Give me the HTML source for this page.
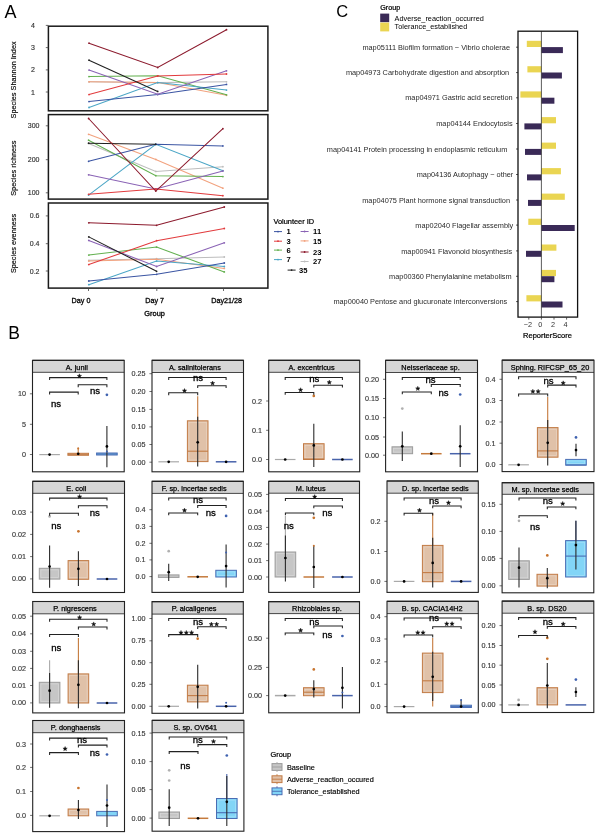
<!DOCTYPE html>
<html><head><meta charset="utf-8"><style>
html,body{margin:0;padding:0;background:#fff;}
svg{display:block;font-family:"Liberation Sans", sans-serif;will-change:transform;}
text{stroke-linejoin:round;}
</style></head><body>
<svg width="598" height="836" viewBox="0 0 598 836">
<rect width="598" height="836" fill="#fff"/>
<text x="4.50" y="18.00" font-size="18" text-anchor="start" fill="#000" >A</text>
<polyline points="89.0,81.8 157.7,82.6 226.5,81.8" fill="none" stroke="#bdbdbd" stroke-width="1.05"/>
<circle cx="89.00" cy="81.80" r="0.9" fill="#bdbdbd"/>
<circle cx="157.70" cy="82.60" r="0.9" fill="#bdbdbd"/>
<circle cx="226.50" cy="81.80" r="0.9" fill="#bdbdbd"/>
<polyline points="89.0,81.8 157.7,82.6 226.5,95.3" fill="none" stroke="#f2a27e" stroke-width="1.05"/>
<circle cx="89.00" cy="81.80" r="0.9" fill="#f2a27e"/>
<circle cx="157.70" cy="82.60" r="0.9" fill="#f2a27e"/>
<circle cx="226.50" cy="95.30" r="0.9" fill="#f2a27e"/>
<polyline points="89.0,76.6 157.7,75.8 226.5,94.8" fill="none" stroke="#63b04f" stroke-width="1.05"/>
<circle cx="89.00" cy="76.60" r="0.9" fill="#63b04f"/>
<circle cx="157.70" cy="75.80" r="0.9" fill="#63b04f"/>
<circle cx="226.50" cy="94.80" r="0.9" fill="#63b04f"/>
<polyline points="89.0,107.5 157.7,82.6 226.5,90.1" fill="none" stroke="#4ba6c6" stroke-width="1.05"/>
<circle cx="89.00" cy="107.50" r="0.9" fill="#4ba6c6"/>
<circle cx="157.70" cy="82.60" r="0.9" fill="#4ba6c6"/>
<circle cx="226.50" cy="90.10" r="0.9" fill="#4ba6c6"/>
<polyline points="89.0,101.6 157.7,94.6 226.5,84.4" fill="none" stroke="#3b55a3" stroke-width="1.05"/>
<circle cx="89.00" cy="101.60" r="0.9" fill="#3b55a3"/>
<circle cx="157.70" cy="94.60" r="0.9" fill="#3b55a3"/>
<circle cx="226.50" cy="84.40" r="0.9" fill="#3b55a3"/>
<polyline points="89.0,70.1 157.7,94.3 226.5,70.8" fill="none" stroke="#8a63b5" stroke-width="1.05"/>
<circle cx="89.00" cy="70.10" r="0.9" fill="#8a63b5"/>
<circle cx="157.70" cy="94.30" r="0.9" fill="#8a63b5"/>
<circle cx="226.50" cy="70.80" r="0.9" fill="#8a63b5"/>
<polyline points="89.0,94.6 157.7,76.0 226.5,74.0" fill="none" stroke="#e23b3d" stroke-width="1.05"/>
<circle cx="89.00" cy="94.60" r="0.9" fill="#e23b3d"/>
<circle cx="157.70" cy="76.00" r="0.9" fill="#e23b3d"/>
<circle cx="226.50" cy="74.00" r="0.9" fill="#e23b3d"/>
<polyline points="89.0,60.2 157.7,91.4" fill="none" stroke="#202020" stroke-width="1.05"/>
<circle cx="89.00" cy="60.20" r="0.9" fill="#202020"/>
<circle cx="157.70" cy="91.40" r="0.9" fill="#202020"/>
<polyline points="89.0,43.2 157.7,67.5 226.5,29.7" fill="none" stroke="#8c1a2d" stroke-width="1.05"/>
<circle cx="89.00" cy="43.20" r="0.9" fill="#8c1a2d"/>
<circle cx="157.70" cy="67.50" r="0.9" fill="#8c1a2d"/>
<circle cx="226.50" cy="29.70" r="0.9" fill="#8c1a2d"/>
<rect x="48.40" y="26.20" width="219.50" height="84.60" fill="none" stroke="#1a1a1a" stroke-width="1.5" />
<polyline points="88.6,143.5 155.8,171.4 222.9,166.7" fill="none" stroke="#bdbdbd" stroke-width="1.05"/>
<circle cx="88.60" cy="143.50" r="0.9" fill="#bdbdbd"/>
<circle cx="155.80" cy="171.40" r="0.9" fill="#bdbdbd"/>
<circle cx="222.90" cy="166.70" r="0.9" fill="#bdbdbd"/>
<polyline points="88.6,134.3 155.8,159.4 222.9,188.2" fill="none" stroke="#f2a27e" stroke-width="1.05"/>
<circle cx="88.60" cy="134.30" r="0.9" fill="#f2a27e"/>
<circle cx="155.80" cy="159.40" r="0.9" fill="#f2a27e"/>
<circle cx="222.90" cy="188.20" r="0.9" fill="#f2a27e"/>
<polyline points="88.6,140.2 155.8,175.7 222.9,176.6" fill="none" stroke="#63b04f" stroke-width="1.05"/>
<circle cx="88.60" cy="140.20" r="0.9" fill="#63b04f"/>
<circle cx="155.80" cy="175.70" r="0.9" fill="#63b04f"/>
<circle cx="222.90" cy="176.60" r="0.9" fill="#63b04f"/>
<polyline points="88.6,195.1 155.8,144.3 222.9,170.7" fill="none" stroke="#4ba6c6" stroke-width="1.05"/>
<circle cx="88.60" cy="195.10" r="0.9" fill="#4ba6c6"/>
<circle cx="155.80" cy="144.30" r="0.9" fill="#4ba6c6"/>
<circle cx="222.90" cy="170.70" r="0.9" fill="#4ba6c6"/>
<polyline points="88.6,161.3 155.8,144.3 222.9,145.9" fill="none" stroke="#3b55a3" stroke-width="1.05"/>
<circle cx="88.60" cy="161.30" r="0.9" fill="#3b55a3"/>
<circle cx="155.80" cy="144.30" r="0.9" fill="#3b55a3"/>
<circle cx="222.90" cy="145.90" r="0.9" fill="#3b55a3"/>
<polyline points="88.6,174.8 155.8,189.0 222.9,171.0" fill="none" stroke="#8a63b5" stroke-width="1.05"/>
<circle cx="88.60" cy="174.80" r="0.9" fill="#8a63b5"/>
<circle cx="155.80" cy="189.00" r="0.9" fill="#8a63b5"/>
<circle cx="222.90" cy="171.00" r="0.9" fill="#8a63b5"/>
<polyline points="88.6,194.3 155.8,189.0 222.9,195.7" fill="none" stroke="#e23b3d" stroke-width="1.05"/>
<circle cx="88.60" cy="194.30" r="0.9" fill="#e23b3d"/>
<circle cx="155.80" cy="189.00" r="0.9" fill="#e23b3d"/>
<circle cx="222.90" cy="195.70" r="0.9" fill="#e23b3d"/>
<polyline points="88.6,143.2 155.8,144.3" fill="none" stroke="#202020" stroke-width="1.05"/>
<circle cx="88.60" cy="143.20" r="0.9" fill="#202020"/>
<circle cx="155.80" cy="144.30" r="0.9" fill="#202020"/>
<polyline points="88.6,118.5 155.8,191.1 222.9,128.7" fill="none" stroke="#8c1a2d" stroke-width="1.05"/>
<circle cx="88.60" cy="118.50" r="0.9" fill="#8c1a2d"/>
<circle cx="155.80" cy="191.10" r="0.9" fill="#8c1a2d"/>
<circle cx="222.90" cy="128.70" r="0.9" fill="#8c1a2d"/>
<rect x="48.40" y="114.60" width="219.50" height="84.50" fill="none" stroke="#1a1a1a" stroke-width="1.5" />
<polyline points="88.8,260.3 156.6,258.7 224.3,257.0" fill="none" stroke="#bdbdbd" stroke-width="1.05"/>
<circle cx="88.80" cy="260.30" r="0.9" fill="#bdbdbd"/>
<circle cx="156.60" cy="258.70" r="0.9" fill="#bdbdbd"/>
<circle cx="224.30" cy="257.00" r="0.9" fill="#bdbdbd"/>
<polyline points="88.8,261.1 156.6,259.2 224.3,268.4" fill="none" stroke="#f2a27e" stroke-width="1.05"/>
<circle cx="88.80" cy="261.10" r="0.9" fill="#f2a27e"/>
<circle cx="156.60" cy="259.20" r="0.9" fill="#f2a27e"/>
<circle cx="224.30" cy="268.40" r="0.9" fill="#f2a27e"/>
<polyline points="88.8,255.1 156.6,247.1 224.3,271.9" fill="none" stroke="#63b04f" stroke-width="1.05"/>
<circle cx="88.80" cy="255.10" r="0.9" fill="#63b04f"/>
<circle cx="156.60" cy="247.10" r="0.9" fill="#63b04f"/>
<circle cx="224.30" cy="271.90" r="0.9" fill="#63b04f"/>
<polyline points="88.8,284.7 156.6,261.1 224.3,266.5" fill="none" stroke="#4ba6c6" stroke-width="1.05"/>
<circle cx="88.80" cy="284.70" r="0.9" fill="#4ba6c6"/>
<circle cx="156.60" cy="261.10" r="0.9" fill="#4ba6c6"/>
<circle cx="224.30" cy="266.50" r="0.9" fill="#4ba6c6"/>
<polyline points="88.8,281.0 156.6,274.3 224.3,263.0" fill="none" stroke="#3b55a3" stroke-width="1.05"/>
<circle cx="88.80" cy="281.00" r="0.9" fill="#3b55a3"/>
<circle cx="156.60" cy="274.30" r="0.9" fill="#3b55a3"/>
<circle cx="224.30" cy="263.00" r="0.9" fill="#3b55a3"/>
<polyline points="88.8,240.4 156.6,266.5 224.3,242.8" fill="none" stroke="#8a63b5" stroke-width="1.05"/>
<circle cx="88.80" cy="240.40" r="0.9" fill="#8a63b5"/>
<circle cx="156.60" cy="266.50" r="0.9" fill="#8a63b5"/>
<circle cx="224.30" cy="242.80" r="0.9" fill="#8a63b5"/>
<polyline points="88.8,264.6 156.6,240.7 224.3,228.5" fill="none" stroke="#e23b3d" stroke-width="1.05"/>
<circle cx="88.80" cy="264.60" r="0.9" fill="#e23b3d"/>
<circle cx="156.60" cy="240.70" r="0.9" fill="#e23b3d"/>
<circle cx="224.30" cy="228.50" r="0.9" fill="#e23b3d"/>
<polyline points="88.8,236.9 156.6,271.3" fill="none" stroke="#202020" stroke-width="1.05"/>
<circle cx="88.80" cy="236.90" r="0.9" fill="#202020"/>
<circle cx="156.60" cy="271.30" r="0.9" fill="#202020"/>
<polyline points="88.8,222.8 156.6,225.3 224.3,207.0" fill="none" stroke="#8c1a2d" stroke-width="1.05"/>
<circle cx="88.80" cy="222.80" r="0.9" fill="#8c1a2d"/>
<circle cx="156.60" cy="225.30" r="0.9" fill="#8c1a2d"/>
<circle cx="224.30" cy="207.00" r="0.9" fill="#8c1a2d"/>
<rect x="48.40" y="203.00" width="219.50" height="85.10" fill="none" stroke="#1a1a1a" stroke-width="1.5" />
<text x="35.00" y="27.92" font-size="7.0" text-anchor="end" fill="#333" stroke="#333" stroke-width="0.15">4</text>
<line x1="45.80" y1="25.40" x2="48.40" y2="25.40" stroke="#444" stroke-width="0.8" />
<text x="35.00" y="50.12" font-size="7.0" text-anchor="end" fill="#333" stroke="#333" stroke-width="0.15">3</text>
<line x1="45.80" y1="47.60" x2="48.40" y2="47.60" stroke="#444" stroke-width="0.8" />
<text x="35.00" y="72.42" font-size="7.0" text-anchor="end" fill="#333" stroke="#333" stroke-width="0.15">2</text>
<line x1="45.80" y1="69.90" x2="48.40" y2="69.90" stroke="#444" stroke-width="0.8" />
<text x="35.00" y="94.52" font-size="7.0" text-anchor="end" fill="#333" stroke="#333" stroke-width="0.15">1</text>
<line x1="45.80" y1="92.00" x2="48.40" y2="92.00" stroke="#444" stroke-width="0.8" />
<text x="39.50" y="128.32" font-size="7.0" text-anchor="end" fill="#333" stroke="#333" stroke-width="0.15">300</text>
<line x1="45.80" y1="125.80" x2="48.40" y2="125.80" stroke="#444" stroke-width="0.8" />
<text x="39.50" y="162.22" font-size="7.0" text-anchor="end" fill="#333" stroke="#333" stroke-width="0.15">200</text>
<line x1="45.80" y1="159.70" x2="48.40" y2="159.70" stroke="#444" stroke-width="0.8" />
<text x="39.50" y="195.32" font-size="7.0" text-anchor="end" fill="#333" stroke="#333" stroke-width="0.15">100</text>
<line x1="45.80" y1="192.80" x2="48.40" y2="192.80" stroke="#444" stroke-width="0.8" />
<text x="39.50" y="218.42" font-size="7.0" text-anchor="end" fill="#333" stroke="#333" stroke-width="0.15">0.6</text>
<line x1="45.80" y1="215.90" x2="48.40" y2="215.90" stroke="#444" stroke-width="0.8" />
<text x="39.50" y="246.22" font-size="7.0" text-anchor="end" fill="#333" stroke="#333" stroke-width="0.15">0.4</text>
<line x1="45.80" y1="243.70" x2="48.40" y2="243.70" stroke="#444" stroke-width="0.8" />
<text x="39.50" y="273.52" font-size="7.0" text-anchor="end" fill="#333" stroke="#333" stroke-width="0.15">0.2</text>
<line x1="45.80" y1="271.00" x2="48.40" y2="271.00" stroke="#444" stroke-width="0.8" />
<line x1="88.50" y1="288.10" x2="88.50" y2="291.00" stroke="#444" stroke-width="0.8" />
<text x="81.00" y="302.99" font-size="7.2" text-anchor="middle" fill="#000" stroke="#000" stroke-width="0.28">Day 0</text>
<line x1="156.80" y1="288.10" x2="156.80" y2="291.00" stroke="#444" stroke-width="0.8" />
<text x="154.60" y="302.99" font-size="7.2" text-anchor="middle" fill="#000" stroke="#000" stroke-width="0.28">Day 7</text>
<line x1="223.50" y1="288.10" x2="223.50" y2="291.00" stroke="#444" stroke-width="0.8" />
<text x="226.60" y="302.99" font-size="7.2" text-anchor="middle" fill="#000" stroke="#000" stroke-width="0.28">Day21/28</text>
<text x="154.60" y="316.26" font-size="7.4" text-anchor="middle" fill="#000" stroke="#000" stroke-width="0.3">Group</text>
<text x="0" y="0" font-size="7.3" text-anchor="middle" stroke="#000" stroke-width="0.15" transform="translate(16.4,79.9) rotate(-90)">Species Shannon Index</text>
<text x="0" y="0" font-size="7.3" text-anchor="middle" stroke="#000" stroke-width="0.15" transform="translate(16.4,168.2) rotate(-90)">Species richness</text>
<text x="0" y="0" font-size="7.3" text-anchor="middle" stroke="#000" stroke-width="0.15" transform="translate(16.4,243.5) rotate(-90)">Species evenness</text>
<text x="273.40" y="224.06" font-size="7.4" text-anchor="start" fill="#000" stroke="#000" stroke-width="0.22">Volunteer ID</text>
<line x1="274.00" y1="231.60" x2="282.00" y2="231.60" stroke="#3b55a3" stroke-width="1" />
<circle cx="278.00" cy="231.60" r="0.9" fill="#3b55a3"/>
<text x="286.50" y="234.34" font-size="7.6" text-anchor="start" fill="#000" font-weight="bold">1</text>
<line x1="274.00" y1="241.20" x2="282.00" y2="241.20" stroke="#e23b3d" stroke-width="1" />
<circle cx="278.00" cy="241.20" r="0.9" fill="#e23b3d"/>
<text x="286.50" y="243.94" font-size="7.6" text-anchor="start" fill="#000" font-weight="bold">3</text>
<line x1="274.00" y1="250.10" x2="282.00" y2="250.10" stroke="#63b04f" stroke-width="1" />
<circle cx="278.00" cy="250.10" r="0.9" fill="#63b04f"/>
<text x="286.50" y="252.84" font-size="7.6" text-anchor="start" fill="#000" font-weight="bold">6</text>
<line x1="274.00" y1="259.60" x2="282.00" y2="259.60" stroke="#4ba6c6" stroke-width="1" />
<circle cx="278.00" cy="259.60" r="0.9" fill="#4ba6c6"/>
<text x="286.50" y="262.34" font-size="7.6" text-anchor="start" fill="#000" font-weight="bold">7</text>
<line x1="300.60" y1="231.50" x2="308.60" y2="231.50" stroke="#8a63b5" stroke-width="1" />
<circle cx="304.60" cy="231.50" r="0.9" fill="#8a63b5"/>
<text x="313.10" y="234.24" font-size="7.6" text-anchor="start" fill="#000" font-weight="bold">11</text>
<line x1="300.60" y1="240.90" x2="308.60" y2="240.90" stroke="#f2a27e" stroke-width="1" />
<circle cx="304.60" cy="240.90" r="0.9" fill="#f2a27e"/>
<text x="313.10" y="243.64" font-size="7.6" text-anchor="start" fill="#000" font-weight="bold">15</text>
<line x1="300.60" y1="252.00" x2="308.60" y2="252.00" stroke="#8c1a2d" stroke-width="1" />
<circle cx="304.60" cy="252.00" r="0.9" fill="#8c1a2d"/>
<text x="313.10" y="254.74" font-size="7.6" text-anchor="start" fill="#000" font-weight="bold">23</text>
<line x1="300.60" y1="261.50" x2="308.60" y2="261.50" stroke="#bdbdbd" stroke-width="1" />
<circle cx="304.60" cy="261.50" r="0.9" fill="#bdbdbd"/>
<text x="313.10" y="264.24" font-size="7.6" text-anchor="start" fill="#000" font-weight="bold">27</text>
<line x1="287.60" y1="270.10" x2="295.60" y2="270.10" stroke="#202020" stroke-width="1" />
<circle cx="291.60" cy="270.10" r="0.9" fill="#202020"/>
<text x="299.10" y="272.84" font-size="7.6" text-anchor="start" fill="#000" font-weight="bold">35</text>
<text x="336.20" y="17.30" font-size="16.5" text-anchor="start" fill="#000" >C</text>
<text x="380.20" y="10.19" font-size="7.2" text-anchor="start" fill="#000" stroke="#000" stroke-width="0.22">Group</text>
<rect x="380.20" y="13.60" width="9.00" height="8.60" fill="#3a2a57" stroke="none" stroke-width="1" />
<rect x="380.20" y="22.60" width="9.00" height="8.80" fill="#ead552" stroke="none" stroke-width="1" />
<text x="394.60" y="20.63" font-size="7.3" text-anchor="start" fill="#000" >Adverse_reaction_occurred</text>
<text x="394.60" y="29.43" font-size="7.3" text-anchor="start" fill="#000" >Tolerance_established</text>
<text x="510.00" y="49.85" font-size="7.35" text-anchor="end" fill="#2a2a2a" >map05111 Biofilm formation − Vibrio cholerae</text>
<line x1="516.00" y1="47.20" x2="518.00" y2="47.20" stroke="#333" stroke-width="0.8" />
<rect x="526.80" y="40.80" width="14.60" height="6.20" fill="#ead552" stroke="none" stroke-width="1" />
<rect x="541.40" y="47.10" width="21.50" height="6.00" fill="#3a2a57" stroke="none" stroke-width="1" />
<text x="509.20" y="75.25" font-size="7.35" text-anchor="end" fill="#2a2a2a" >map04973 Carbohydrate digestion and absorption</text>
<line x1="516.00" y1="72.60" x2="518.00" y2="72.60" stroke="#333" stroke-width="0.8" />
<rect x="527.40" y="66.20" width="14.00" height="6.20" fill="#ead552" stroke="none" stroke-width="1" />
<rect x="541.40" y="72.50" width="20.50" height="6.00" fill="#3a2a57" stroke="none" stroke-width="1" />
<text x="512.60" y="100.45" font-size="7.35" text-anchor="end" fill="#2a2a2a" >map04971 Gastric acid secretion</text>
<line x1="516.00" y1="97.80" x2="518.00" y2="97.80" stroke="#333" stroke-width="0.8" />
<rect x="520.40" y="91.40" width="21.00" height="6.20" fill="#ead552" stroke="none" stroke-width="1" />
<rect x="541.40" y="97.70" width="13.00" height="6.00" fill="#3a2a57" stroke="none" stroke-width="1" />
<text x="512.60" y="126.15" font-size="7.35" text-anchor="end" fill="#2a2a2a" >map04144 Endocytosis</text>
<line x1="516.00" y1="123.50" x2="518.00" y2="123.50" stroke="#333" stroke-width="0.8" />
<rect x="541.40" y="117.10" width="14.60" height="6.20" fill="#ead552" stroke="none" stroke-width="1" />
<rect x="524.40" y="123.40" width="17.00" height="6.00" fill="#3a2a57" stroke="none" stroke-width="1" />
<text x="507.30" y="151.65" font-size="7.35" text-anchor="end" fill="#2a2a2a" >map04141 Protein processing in endoplasmic reticulum</text>
<line x1="516.00" y1="149.00" x2="518.00" y2="149.00" stroke="#333" stroke-width="0.8" />
<rect x="541.40" y="142.60" width="14.60" height="6.20" fill="#ead552" stroke="none" stroke-width="1" />
<rect x="525.00" y="148.90" width="16.40" height="6.00" fill="#3a2a57" stroke="none" stroke-width="1" />
<text x="513.30" y="177.15" font-size="7.35" text-anchor="end" fill="#2a2a2a" >map04136 Autophagy − other</text>
<line x1="516.00" y1="174.50" x2="518.00" y2="174.50" stroke="#333" stroke-width="0.8" />
<rect x="541.40" y="168.10" width="19.50" height="6.20" fill="#ead552" stroke="none" stroke-width="1" />
<rect x="527.00" y="174.40" width="14.40" height="6.00" fill="#3a2a57" stroke="none" stroke-width="1" />
<text x="510.00" y="202.65" font-size="7.35" text-anchor="end" fill="#2a2a2a" >map04075 Plant hormone signal transduction</text>
<line x1="516.00" y1="200.00" x2="518.00" y2="200.00" stroke="#333" stroke-width="0.8" />
<rect x="541.40" y="193.60" width="23.40" height="6.20" fill="#ead552" stroke="none" stroke-width="1" />
<rect x="528.00" y="199.90" width="13.40" height="6.00" fill="#3a2a57" stroke="none" stroke-width="1" />
<text x="513.30" y="227.75" font-size="7.35" text-anchor="end" fill="#2a2a2a" >map02040 Flagellar assembly</text>
<line x1="516.00" y1="225.10" x2="518.00" y2="225.10" stroke="#333" stroke-width="0.8" />
<rect x="528.30" y="218.70" width="13.10" height="6.20" fill="#ead552" stroke="none" stroke-width="1" />
<rect x="541.40" y="225.00" width="33.30" height="6.00" fill="#3a2a57" stroke="none" stroke-width="1" />
<text x="512.30" y="253.55" font-size="7.35" text-anchor="end" fill="#2a2a2a" >map00941 Flavonoid biosynthesis</text>
<line x1="516.00" y1="250.90" x2="518.00" y2="250.90" stroke="#333" stroke-width="0.8" />
<rect x="541.40" y="244.50" width="15.00" height="6.20" fill="#ead552" stroke="none" stroke-width="1" />
<rect x="526.00" y="250.80" width="15.40" height="6.00" fill="#3a2a57" stroke="none" stroke-width="1" />
<text x="511.60" y="278.95" font-size="7.35" text-anchor="end" fill="#2a2a2a" >map00360 Phenylalanine metabolism</text>
<line x1="516.00" y1="276.30" x2="518.00" y2="276.30" stroke="#333" stroke-width="0.8" />
<rect x="541.40" y="269.90" width="14.60" height="6.20" fill="#ead552" stroke="none" stroke-width="1" />
<rect x="541.40" y="276.20" width="13.00" height="6.00" fill="#3a2a57" stroke="none" stroke-width="1" />
<text x="507.30" y="304.25" font-size="7.35" text-anchor="end" fill="#2a2a2a" >map00040 Pentose and glucuronate interconversions</text>
<line x1="516.00" y1="301.60" x2="518.00" y2="301.60" stroke="#333" stroke-width="0.8" />
<rect x="526.40" y="295.20" width="15.00" height="6.20" fill="#ead552" stroke="none" stroke-width="1" />
<rect x="541.40" y="301.50" width="21.10" height="6.00" fill="#3a2a57" stroke="none" stroke-width="1" />
<line x1="541.40" y1="31.20" x2="541.40" y2="317.10" stroke="#333" stroke-width="0.8" />
<rect x="518.00" y="31.20" width="59.60" height="285.90" fill="none" stroke="#111" stroke-width="1.3" />
<line x1="528.80" y1="317.10" x2="528.80" y2="319.60" stroke="#333" stroke-width="0.8" />
<text x="527.80" y="327.43" font-size="7.3" text-anchor="middle" fill="#333" >−2</text>
<line x1="541.40" y1="317.10" x2="541.40" y2="319.60" stroke="#333" stroke-width="0.8" />
<text x="540.40" y="327.43" font-size="7.3" text-anchor="middle" fill="#333" >0</text>
<line x1="554.00" y1="317.10" x2="554.00" y2="319.60" stroke="#333" stroke-width="0.8" />
<text x="553.00" y="327.43" font-size="7.3" text-anchor="middle" fill="#333" >2</text>
<line x1="566.60" y1="317.10" x2="566.60" y2="319.60" stroke="#333" stroke-width="0.8" />
<text x="565.60" y="327.43" font-size="7.3" text-anchor="middle" fill="#333" >4</text>
<text x="547.50" y="338.20" font-size="7.5" text-anchor="middle" fill="#000" stroke="#000" stroke-width="0.22">ReporterScore</text>
<text x="8.20" y="339.30" font-size="17.5" text-anchor="start" fill="#000" >B</text>
<text x="25.90" y="396.39" font-size="7.2" text-anchor="end" fill="#383838" stroke="#383838" stroke-width="0.15">10</text>
<line x1="29.90" y1="393.80" x2="32.50" y2="393.80" stroke="#4d4d4d" stroke-width="0.8" />
<text x="25.90" y="426.89" font-size="7.2" text-anchor="end" fill="#383838" stroke="#383838" stroke-width="0.15">5</text>
<line x1="29.90" y1="424.30" x2="32.50" y2="424.30" stroke="#4d4d4d" stroke-width="0.8" />
<text x="25.90" y="457.09" font-size="7.2" text-anchor="end" fill="#383838" stroke="#383838" stroke-width="0.15">0</text>
<line x1="29.90" y1="454.50" x2="32.50" y2="454.50" stroke="#4d4d4d" stroke-width="0.8" />
<line x1="39.30" y1="454.60" x2="59.90" y2="454.60" stroke="#a9a9a9" stroke-width="1.2" />
<circle cx="49.60" cy="454.60" r="1.35" fill="#000"/>
<line x1="78.20" y1="447.60" x2="78.20" y2="453.30" stroke="#c57a3c" stroke-width="1.1" />
<rect x="67.90" y="453.30" width="20.60" height="2.00" fill="#e0c1a8" stroke="#c27b45" stroke-width="1.0" />
<line x1="67.90" y1="454.30" x2="88.50" y2="454.30" stroke="#c27b45" stroke-width="1.1" />
<circle cx="78.20" cy="448.50" r="1.0" fill="#c8742e"/>
<circle cx="78.20" cy="453.80" r="1.35" fill="#000"/>
<rect x="96.60" y="453.00" width="20.60" height="2.00" fill="#82d5f7" stroke="#4a6db4" stroke-width="1.0" />
<line x1="96.60" y1="454.00" x2="117.20" y2="454.00" stroke="#4a6db4" stroke-width="1.1" />
<circle cx="106.90" cy="394.80" r="1.35" fill="#3f62b0"/>
<line x1="106.90" y1="425.90" x2="106.90" y2="467.20" stroke="#2b2b2b" stroke-width="1.1" />
<circle cx="106.90" cy="451.40" r="1.0" fill="#3f62b0"/>
<circle cx="106.90" cy="446.40" r="1.35" fill="#000"/>
<path d="M49.60,380.00 V377.60 H106.90 V380.00" fill="none" stroke="#222" stroke-width="1.05"/>
<path d="M78.20,387.20 V384.80 H106.90 V387.20" fill="none" stroke="#222" stroke-width="1.05"/>
<path d="M49.60,394.50 V392.10 H78.20 V394.50" fill="none" stroke="#222" stroke-width="1.05"/>
<polygon points="79.40,373.80 79.99,375.29 81.59,375.39 80.35,376.41 80.75,377.96 79.40,377.10 78.05,377.96 78.45,376.41 77.21,375.39 78.81,375.29" fill="#111" stroke="#111" stroke-width="0.4" stroke-linejoin="round"/>
<text x="95.00" y="394.09" font-size="9.6" text-anchor="middle" fill="#000" stroke="#000" stroke-width="0.3">ns</text>
<text x="56.00" y="406.89" font-size="9.6" text-anchor="middle" fill="#000" stroke="#000" stroke-width="0.3">ns</text>
<rect x="32.50" y="360.40" width="91.70" height="11.90" fill="#d6d6d6" stroke="none" stroke-width="1" />
<line x1="32.50" y1="360.40" x2="124.20" y2="360.40" stroke="#222" stroke-width="1.2" />
<line x1="32.50" y1="372.30" x2="124.20" y2="372.30" stroke="#333" stroke-width="0.9" />
<text x="76.75" y="369.80" font-size="7.35" text-anchor="middle" fill="#000" stroke="#000" stroke-width="0.25">A. junii</text>
<rect x="32.50" y="360.40" width="91.70" height="111.40" fill="none" stroke="#222" stroke-width="1.1" />
<text x="145.40" y="376.29" font-size="7.2" text-anchor="end" fill="#383838" stroke="#383838" stroke-width="0.15">0.25</text>
<line x1="149.40" y1="373.70" x2="152.00" y2="373.70" stroke="#4d4d4d" stroke-width="0.8" />
<text x="145.40" y="394.09" font-size="7.2" text-anchor="end" fill="#383838" stroke="#383838" stroke-width="0.15">0.20</text>
<line x1="149.40" y1="391.50" x2="152.00" y2="391.50" stroke="#4d4d4d" stroke-width="0.8" />
<text x="145.40" y="411.99" font-size="7.2" text-anchor="end" fill="#383838" stroke="#383838" stroke-width="0.15">0.15</text>
<line x1="149.40" y1="409.40" x2="152.00" y2="409.40" stroke="#4d4d4d" stroke-width="0.8" />
<text x="145.40" y="429.49" font-size="7.2" text-anchor="end" fill="#383838" stroke="#383838" stroke-width="0.15">0.10</text>
<line x1="149.40" y1="426.90" x2="152.00" y2="426.90" stroke="#4d4d4d" stroke-width="0.8" />
<text x="145.40" y="447.09" font-size="7.2" text-anchor="end" fill="#383838" stroke="#383838" stroke-width="0.15">0.05</text>
<line x1="149.40" y1="444.50" x2="152.00" y2="444.50" stroke="#4d4d4d" stroke-width="0.8" />
<text x="145.40" y="464.79" font-size="7.2" text-anchor="end" fill="#383838" stroke="#383838" stroke-width="0.15">0.00</text>
<line x1="149.40" y1="462.20" x2="152.00" y2="462.20" stroke="#4d4d4d" stroke-width="0.8" />
<line x1="158.40" y1="461.80" x2="179.00" y2="461.80" stroke="#a9a9a9" stroke-width="1.2" />
<circle cx="168.70" cy="461.80" r="1.35" fill="#000"/>
<line x1="197.70" y1="396.30" x2="197.70" y2="420.80" stroke="#c57a3c" stroke-width="1.1" />
<rect x="187.40" y="420.80" width="20.60" height="40.80" fill="#e0c1a8" stroke="#c27b45" stroke-width="1.0" />
<rect x="189.00" y="422.40" width="17.40" height="37.60" fill="none" stroke="#ffffff" stroke-width="0.6" stroke-opacity="0.35"/>
<line x1="187.40" y1="451.20" x2="208.00" y2="451.20" stroke="#c27b45" stroke-width="1.1" />
<line x1="197.70" y1="416.80" x2="197.70" y2="466.50" stroke="#2b2b2b" stroke-width="1.1" />
<circle cx="197.70" cy="442.30" r="1.35" fill="#000"/>
<line x1="215.80" y1="461.80" x2="236.40" y2="461.80" stroke="#4863ab" stroke-width="1.5" />
<circle cx="226.10" cy="461.80" r="1.35" fill="#000"/>
<path d="M168.70,379.90 V377.50 H226.10 V379.90" fill="none" stroke="#222" stroke-width="1.05"/>
<path d="M197.70,388.10 V385.70 H226.10 V388.10" fill="none" stroke="#222" stroke-width="1.05"/>
<path d="M168.70,395.20 V392.80 H197.70 V395.20" fill="none" stroke="#222" stroke-width="1.05"/>
<text x="198.00" y="381.29" font-size="9.6" text-anchor="middle" fill="#000" stroke="#000" stroke-width="0.3">ns</text>
<polygon points="212.60,381.00 213.19,382.49 214.79,382.59 213.55,383.61 213.95,385.16 212.60,384.30 211.25,385.16 211.65,383.61 210.41,382.59 212.01,382.49" fill="#111" stroke="#111" stroke-width="0.4" stroke-linejoin="round"/>
<polygon points="184.50,388.50 185.09,389.99 186.69,390.09 185.45,391.11 185.85,392.66 184.50,391.80 183.15,392.66 183.55,391.11 182.31,390.09 183.91,389.99" fill="#111" stroke="#111" stroke-width="0.4" stroke-linejoin="round"/>
<rect x="152.00" y="360.30" width="91.50" height="12.20" fill="#d6d6d6" stroke="none" stroke-width="1" />
<line x1="152.00" y1="360.30" x2="243.50" y2="360.30" stroke="#222" stroke-width="1.2" />
<line x1="152.00" y1="372.50" x2="243.50" y2="372.50" stroke="#333" stroke-width="0.9" />
<text x="194.90" y="369.85" font-size="7.35" text-anchor="middle" fill="#000" stroke="#000" stroke-width="0.25">A. salinitolerans</text>
<rect x="152.00" y="360.30" width="91.50" height="111.50" fill="none" stroke="#222" stroke-width="1.1" />
<text x="262.10" y="403.59" font-size="7.2" text-anchor="end" fill="#383838" stroke="#383838" stroke-width="0.15">0.2</text>
<line x1="266.10" y1="401.00" x2="268.70" y2="401.00" stroke="#4d4d4d" stroke-width="0.8" />
<text x="262.10" y="432.89" font-size="7.2" text-anchor="end" fill="#383838" stroke="#383838" stroke-width="0.15">0.1</text>
<line x1="266.10" y1="430.30" x2="268.70" y2="430.30" stroke="#4d4d4d" stroke-width="0.8" />
<text x="262.10" y="462.09" font-size="7.2" text-anchor="end" fill="#383838" stroke="#383838" stroke-width="0.15">0.0</text>
<line x1="266.10" y1="459.50" x2="268.70" y2="459.50" stroke="#4d4d4d" stroke-width="0.8" />
<line x1="274.90" y1="459.50" x2="295.50" y2="459.50" stroke="#a9a9a9" stroke-width="1.2" />
<circle cx="285.20" cy="459.50" r="1.35" fill="#000"/>
<rect x="303.50" y="443.70" width="20.60" height="15.80" fill="#e0c1a8" stroke="#c27b45" stroke-width="1.0" />
<rect x="305.10" y="445.30" width="17.40" height="12.60" fill="none" stroke="#ffffff" stroke-width="0.6" stroke-opacity="0.35"/>
<line x1="303.50" y1="459.00" x2="324.10" y2="459.00" stroke="#c27b45" stroke-width="1.1" />
<circle cx="313.80" cy="395.90" r="1.35" fill="#c8742e"/>
<line x1="313.80" y1="423.80" x2="313.80" y2="466.90" stroke="#2b2b2b" stroke-width="1.1" />
<circle cx="313.80" cy="445.40" r="1.35" fill="#000"/>
<line x1="332.10" y1="459.50" x2="352.70" y2="459.50" stroke="#4863ab" stroke-width="1.5" />
<circle cx="342.40" cy="459.50" r="1.35" fill="#000"/>
<path d="M285.20,379.90 V377.50 H342.40 V379.90" fill="none" stroke="#222" stroke-width="1.05"/>
<path d="M313.80,387.60 V385.20 H342.40 V387.60" fill="none" stroke="#222" stroke-width="1.05"/>
<path d="M285.20,394.80 V392.40 H313.80 V394.80" fill="none" stroke="#222" stroke-width="1.05"/>
<text x="314.30" y="381.79" font-size="9.6" text-anchor="middle" fill="#000" stroke="#000" stroke-width="0.3">ns</text>
<polygon points="329.30,380.10 329.89,381.59 331.49,381.69 330.25,382.71 330.65,384.26 329.30,383.40 327.95,384.26 328.35,382.71 327.11,381.69 328.71,381.59" fill="#111" stroke="#111" stroke-width="0.4" stroke-linejoin="round"/>
<polygon points="300.60,387.70 301.19,389.19 302.79,389.29 301.55,390.31 301.95,391.86 300.60,391.00 299.25,391.86 299.65,390.31 298.41,389.29 300.01,389.19" fill="#111" stroke="#111" stroke-width="0.4" stroke-linejoin="round"/>
<rect x="268.70" y="360.30" width="91.00" height="12.00" fill="#d6d6d6" stroke="none" stroke-width="1" />
<line x1="268.70" y1="360.30" x2="359.70" y2="360.30" stroke="#222" stroke-width="1.2" />
<line x1="268.70" y1="372.30" x2="359.70" y2="372.30" stroke="#333" stroke-width="0.9" />
<text x="311.50" y="369.75" font-size="7.35" text-anchor="middle" fill="#000" stroke="#000" stroke-width="0.25">A. excentricus</text>
<rect x="268.70" y="360.30" width="91.00" height="111.50" fill="none" stroke="#222" stroke-width="1.1" />
<text x="379.00" y="381.89" font-size="7.2" text-anchor="end" fill="#383838" stroke="#383838" stroke-width="0.15">0.20</text>
<line x1="383.00" y1="379.30" x2="385.60" y2="379.30" stroke="#4d4d4d" stroke-width="0.8" />
<text x="379.00" y="401.09" font-size="7.2" text-anchor="end" fill="#383838" stroke="#383838" stroke-width="0.15">0.15</text>
<line x1="383.00" y1="398.50" x2="385.60" y2="398.50" stroke="#4d4d4d" stroke-width="0.8" />
<text x="379.00" y="420.29" font-size="7.2" text-anchor="end" fill="#383838" stroke="#383838" stroke-width="0.15">0.10</text>
<line x1="383.00" y1="417.70" x2="385.60" y2="417.70" stroke="#4d4d4d" stroke-width="0.8" />
<text x="379.00" y="439.59" font-size="7.2" text-anchor="end" fill="#383838" stroke="#383838" stroke-width="0.15">0.05</text>
<line x1="383.00" y1="437.00" x2="385.60" y2="437.00" stroke="#4d4d4d" stroke-width="0.8" />
<text x="379.00" y="457.79" font-size="7.2" text-anchor="end" fill="#383838" stroke="#383838" stroke-width="0.15">0.00</text>
<line x1="383.00" y1="455.20" x2="385.60" y2="455.20" stroke="#4d4d4d" stroke-width="0.8" />
<rect x="392.00" y="446.80" width="20.60" height="6.90" fill="#c6c6c6" stroke="#9c9c9c" stroke-width="1.0" />
<rect x="393.60" y="448.40" width="17.40" height="3.70" fill="none" stroke="#ffffff" stroke-width="0.6" stroke-opacity="0.35"/>
<circle cx="402.30" cy="408.60" r="1.35" fill="#b0b0b0"/>
<line x1="402.30" y1="431.40" x2="402.30" y2="460.90" stroke="#2b2b2b" stroke-width="1.1" />
<circle cx="402.30" cy="446.30" r="1.35" fill="#000"/>
<line x1="421.00" y1="453.70" x2="441.60" y2="453.70" stroke="#c57a3c" stroke-width="1.5" />
<circle cx="431.30" cy="453.70" r="1.35" fill="#000"/>
<line x1="449.90" y1="453.70" x2="470.50" y2="453.70" stroke="#4863ab" stroke-width="1.5" />
<circle cx="460.20" cy="394.50" r="1.35" fill="#3f62b0"/>
<line x1="460.20" y1="425.20" x2="460.20" y2="466.90" stroke="#2b2b2b" stroke-width="1.1" />
<circle cx="460.20" cy="446.30" r="1.35" fill="#000"/>
<path d="M402.30,379.90 V377.50 H460.20 V379.90" fill="none" stroke="#222" stroke-width="1.05"/>
<path d="M431.30,386.90 V384.50 H460.20 V386.90" fill="none" stroke="#222" stroke-width="1.05"/>
<path d="M402.30,394.30 V391.90 H431.30 V394.30" fill="none" stroke="#222" stroke-width="1.05"/>
<text x="430.60" y="382.69" font-size="9.6" text-anchor="middle" fill="#000" stroke="#000" stroke-width="0.3">ns</text>
<text x="443.60" y="395.69" font-size="9.6" text-anchor="middle" fill="#000" stroke="#000" stroke-width="0.3">ns</text>
<polygon points="417.80,386.30 418.39,387.79 419.99,387.89 418.75,388.91 419.15,390.46 417.80,389.60 416.45,390.46 416.85,388.91 415.61,387.89 417.21,387.79" fill="#111" stroke="#111" stroke-width="0.4" stroke-linejoin="round"/>
<rect x="385.60" y="360.30" width="91.90" height="12.20" fill="#d6d6d6" stroke="none" stroke-width="1" />
<line x1="385.60" y1="360.30" x2="477.50" y2="360.30" stroke="#222" stroke-width="1.2" />
<line x1="385.60" y1="372.50" x2="477.50" y2="372.50" stroke="#333" stroke-width="0.9" />
<text x="430.55" y="369.85" font-size="7.35" text-anchor="middle" fill="#000" stroke="#000" stroke-width="0.25">Neisseriaceae sp.</text>
<rect x="385.60" y="360.30" width="91.90" height="111.50" fill="none" stroke="#222" stroke-width="1.1" />
<text x="495.50" y="381.89" font-size="7.2" text-anchor="end" fill="#383838" stroke="#383838" stroke-width="0.15">0.4</text>
<line x1="499.50" y1="379.30" x2="502.10" y2="379.30" stroke="#4d4d4d" stroke-width="0.8" />
<text x="495.50" y="403.09" font-size="7.2" text-anchor="end" fill="#383838" stroke="#383838" stroke-width="0.15">0.3</text>
<line x1="499.50" y1="400.50" x2="502.10" y2="400.50" stroke="#4d4d4d" stroke-width="0.8" />
<text x="495.50" y="424.59" font-size="7.2" text-anchor="end" fill="#383838" stroke="#383838" stroke-width="0.15">0.2</text>
<line x1="499.50" y1="422.00" x2="502.10" y2="422.00" stroke="#4d4d4d" stroke-width="0.8" />
<text x="495.50" y="445.79" font-size="7.2" text-anchor="end" fill="#383838" stroke="#383838" stroke-width="0.15">0.1</text>
<line x1="499.50" y1="443.20" x2="502.10" y2="443.20" stroke="#4d4d4d" stroke-width="0.8" />
<text x="495.50" y="467.09" font-size="7.2" text-anchor="end" fill="#383838" stroke="#383838" stroke-width="0.15">0.0</text>
<line x1="499.50" y1="464.50" x2="502.10" y2="464.50" stroke="#4d4d4d" stroke-width="0.8" />
<line x1="508.30" y1="464.80" x2="528.90" y2="464.80" stroke="#a9a9a9" stroke-width="1.2" />
<circle cx="518.60" cy="464.80" r="1.35" fill="#000"/>
<line x1="547.70" y1="396.90" x2="547.70" y2="427.60" stroke="#c57a3c" stroke-width="1.1" />
<rect x="537.40" y="427.60" width="20.60" height="29.60" fill="#e0c1a8" stroke="#c27b45" stroke-width="1.0" />
<rect x="539.00" y="429.20" width="17.40" height="26.40" fill="none" stroke="#ffffff" stroke-width="0.6" stroke-opacity="0.35"/>
<line x1="537.40" y1="450.90" x2="558.00" y2="450.90" stroke="#c27b45" stroke-width="1.1" />
<line x1="547.70" y1="420.00" x2="547.70" y2="465.60" stroke="#2b2b2b" stroke-width="1.1" />
<circle cx="547.70" cy="442.80" r="1.35" fill="#000"/>
<rect x="565.70" y="459.40" width="20.60" height="5.70" fill="#82d5f7" stroke="#4a6db4" stroke-width="1.0" />
<rect x="567.30" y="461.00" width="17.40" height="2.50" fill="none" stroke="#ffffff" stroke-width="0.6" stroke-opacity="0.35"/>
<line x1="565.70" y1="465.00" x2="586.30" y2="465.00" stroke="#4a6db4" stroke-width="1.1" />
<circle cx="576.00" cy="437.40" r="1.35" fill="#3f62b0"/>
<line x1="576.00" y1="443.70" x2="576.00" y2="456.30" stroke="#2b2b2b" stroke-width="1.1" />
<circle cx="576.00" cy="450.10" r="1.35" fill="#000"/>
<path d="M518.60,379.20 V376.80 H576.00 V379.20" fill="none" stroke="#222" stroke-width="1.05"/>
<path d="M547.70,387.50 V385.10 H576.00 V387.50" fill="none" stroke="#222" stroke-width="1.05"/>
<path d="M518.60,396.40 V394.00 H547.70 V396.40" fill="none" stroke="#222" stroke-width="1.05"/>
<text x="548.50" y="383.79" font-size="9.6" text-anchor="middle" fill="#000" stroke="#000" stroke-width="0.3">ns</text>
<polygon points="563.20,380.80 563.79,382.29 565.39,382.39 564.15,383.41 564.55,384.96 563.20,384.10 561.85,384.96 562.25,383.41 561.01,382.39 562.61,382.29" fill="#111" stroke="#111" stroke-width="0.4" stroke-linejoin="round"/>
<polygon points="532.85,389.20 533.44,390.69 535.04,390.79 533.80,391.81 534.20,393.36 532.85,392.50 531.50,393.36 531.90,391.81 530.66,390.79 532.26,390.69" fill="#111" stroke="#111" stroke-width="0.4" stroke-linejoin="round"/>
<polygon points="538.15,389.20 538.74,390.69 540.34,390.79 539.10,391.81 539.50,393.36 538.15,392.50 536.80,393.36 537.20,391.81 535.96,390.79 537.56,390.69" fill="#111" stroke="#111" stroke-width="0.4" stroke-linejoin="round"/>
<rect x="502.10" y="360.20" width="91.90" height="12.20" fill="#d6d6d6" stroke="none" stroke-width="1" />
<line x1="502.10" y1="360.20" x2="594.00" y2="360.20" stroke="#222" stroke-width="1.2" />
<line x1="502.10" y1="372.40" x2="594.00" y2="372.40" stroke="#333" stroke-width="0.9" />
<text x="550.05" y="369.75" font-size="7.35" text-anchor="middle" fill="#000" stroke="#000" stroke-width="0.25">Sphing. RIFCSP_65_20</text>
<rect x="502.10" y="360.20" width="91.90" height="111.40" fill="none" stroke="#222" stroke-width="1.1" />
<text x="26.10" y="514.69" font-size="7.2" text-anchor="end" fill="#383838" stroke="#383838" stroke-width="0.15">0.03</text>
<line x1="30.10" y1="512.10" x2="32.70" y2="512.10" stroke="#4d4d4d" stroke-width="0.8" />
<text x="26.10" y="536.99" font-size="7.2" text-anchor="end" fill="#383838" stroke="#383838" stroke-width="0.15">0.02</text>
<line x1="30.10" y1="534.40" x2="32.70" y2="534.40" stroke="#4d4d4d" stroke-width="0.8" />
<text x="26.10" y="559.19" font-size="7.2" text-anchor="end" fill="#383838" stroke="#383838" stroke-width="0.15">0.01</text>
<line x1="30.10" y1="556.60" x2="32.70" y2="556.60" stroke="#4d4d4d" stroke-width="0.8" />
<text x="26.10" y="581.49" font-size="7.2" text-anchor="end" fill="#383838" stroke="#383838" stroke-width="0.15">0.00</text>
<line x1="30.10" y1="578.90" x2="32.70" y2="578.90" stroke="#4d4d4d" stroke-width="0.8" />
<rect x="39.30" y="568.30" width="20.60" height="10.80" fill="#c6c6c6" stroke="#9c9c9c" stroke-width="1.0" />
<rect x="40.90" y="569.90" width="17.40" height="7.60" fill="none" stroke="#ffffff" stroke-width="0.6" stroke-opacity="0.35"/>
<circle cx="49.60" cy="516.40" r="1.35" fill="#b0b0b0"/>
<line x1="49.60" y1="545.40" x2="49.60" y2="587.80" stroke="#2b2b2b" stroke-width="1.1" />
<circle cx="49.60" cy="566.50" r="1.35" fill="#000"/>
<rect x="68.10" y="560.60" width="20.60" height="18.70" fill="#e0c1a8" stroke="#c27b45" stroke-width="1.0" />
<rect x="69.70" y="562.20" width="17.40" height="15.50" fill="none" stroke="#ffffff" stroke-width="0.6" stroke-opacity="0.35"/>
<circle cx="78.40" cy="531.30" r="1.35" fill="#c8742e"/>
<line x1="78.40" y1="551.20" x2="78.40" y2="585.90" stroke="#2b2b2b" stroke-width="1.1" />
<circle cx="78.40" cy="568.80" r="1.35" fill="#000"/>
<line x1="96.70" y1="579.00" x2="117.30" y2="579.00" stroke="#4863ab" stroke-width="1.5" />
<circle cx="107.00" cy="579.00" r="1.35" fill="#000"/>
<path d="M49.60,500.50 V498.10 H107.00 V500.50" fill="none" stroke="#222" stroke-width="1.05"/>
<path d="M78.40,508.20 V505.80 H107.00 V508.20" fill="none" stroke="#222" stroke-width="1.05"/>
<path d="M49.60,515.70 V513.30 H78.40 V515.70" fill="none" stroke="#222" stroke-width="1.05"/>
<polygon points="79.60,494.40 80.19,495.89 81.79,495.99 80.55,497.01 80.95,498.56 79.60,497.70 78.25,498.56 78.65,497.01 77.41,495.99 79.01,495.89" fill="#111" stroke="#111" stroke-width="0.4" stroke-linejoin="round"/>
<text x="94.80" y="515.89" font-size="9.6" text-anchor="middle" fill="#000" stroke="#000" stroke-width="0.3">ns</text>
<text x="56.20" y="528.79" font-size="9.6" text-anchor="middle" fill="#000" stroke="#000" stroke-width="0.3">ns</text>
<rect x="32.70" y="481.30" width="91.80" height="12.00" fill="#d6d6d6" stroke="none" stroke-width="1" />
<line x1="32.70" y1="481.30" x2="124.50" y2="481.30" stroke="#222" stroke-width="1.2" />
<line x1="32.70" y1="493.30" x2="124.50" y2="493.30" stroke="#333" stroke-width="0.9" />
<text x="76.30" y="490.75" font-size="7.35" text-anchor="middle" fill="#000" stroke="#000" stroke-width="0.25">E. coli</text>
<rect x="32.70" y="481.30" width="91.80" height="111.20" fill="none" stroke="#222" stroke-width="1.1" />
<text x="145.40" y="512.29" font-size="7.2" text-anchor="end" fill="#383838" stroke="#383838" stroke-width="0.15">0.4</text>
<line x1="149.40" y1="509.70" x2="152.00" y2="509.70" stroke="#4d4d4d" stroke-width="0.8" />
<text x="145.40" y="528.99" font-size="7.2" text-anchor="end" fill="#383838" stroke="#383838" stroke-width="0.15">0.3</text>
<line x1="149.40" y1="526.40" x2="152.00" y2="526.40" stroke="#4d4d4d" stroke-width="0.8" />
<text x="145.40" y="545.89" font-size="7.2" text-anchor="end" fill="#383838" stroke="#383838" stroke-width="0.15">0.2</text>
<line x1="149.40" y1="543.30" x2="152.00" y2="543.30" stroke="#4d4d4d" stroke-width="0.8" />
<text x="145.40" y="562.49" font-size="7.2" text-anchor="end" fill="#383838" stroke="#383838" stroke-width="0.15">0.1</text>
<line x1="149.40" y1="559.90" x2="152.00" y2="559.90" stroke="#4d4d4d" stroke-width="0.8" />
<text x="145.40" y="579.19" font-size="7.2" text-anchor="end" fill="#383838" stroke="#383838" stroke-width="0.15">0.0</text>
<line x1="149.40" y1="576.60" x2="152.00" y2="576.60" stroke="#4d4d4d" stroke-width="0.8" />
<rect x="158.40" y="574.90" width="20.60" height="2.50" fill="#c6c6c6" stroke="#9c9c9c" stroke-width="1.0" />
<circle cx="168.70" cy="551.20" r="1.35" fill="#b0b0b0"/>
<line x1="168.70" y1="563.80" x2="168.70" y2="581.00" stroke="#2b2b2b" stroke-width="1.1" />
<circle cx="168.70" cy="572.20" r="1.35" fill="#000"/>
<line x1="187.40" y1="576.80" x2="208.00" y2="576.80" stroke="#c57a3c" stroke-width="1.5" />
<circle cx="197.70" cy="576.80" r="1.35" fill="#000"/>
<rect x="215.80" y="570.30" width="20.60" height="6.70" fill="#82d5f7" stroke="#4a6db4" stroke-width="1.0" />
<rect x="217.40" y="571.90" width="17.40" height="3.50" fill="none" stroke="#ffffff" stroke-width="0.6" stroke-opacity="0.35"/>
<circle cx="226.10" cy="515.90" r="1.35" fill="#3f62b0"/>
<line x1="226.10" y1="544.50" x2="226.10" y2="587.50" stroke="#2b2b2b" stroke-width="1.1" />
<circle cx="226.10" cy="552.40" r="1.0" fill="#3f62b0"/>
<circle cx="226.10" cy="566.10" r="1.35" fill="#000"/>
<path d="M168.70,500.40 V498.00 H226.10 V500.40" fill="none" stroke="#222" stroke-width="1.05"/>
<path d="M197.70,507.90 V505.50 H226.10 V507.90" fill="none" stroke="#222" stroke-width="1.05"/>
<path d="M168.70,515.30 V512.90 H197.70 V515.30" fill="none" stroke="#222" stroke-width="1.05"/>
<text x="198.00" y="503.19" font-size="9.6" text-anchor="middle" fill="#000" stroke="#000" stroke-width="0.3">ns</text>
<text x="210.80" y="515.79" font-size="9.6" text-anchor="middle" fill="#000" stroke="#000" stroke-width="0.3">ns</text>
<polygon points="184.50,508.10 185.09,509.59 186.69,509.69 185.45,510.71 185.85,512.26 184.50,511.40 183.15,512.26 183.55,510.71 182.31,509.69 183.91,509.59" fill="#111" stroke="#111" stroke-width="0.4" stroke-linejoin="round"/>
<rect x="152.00" y="481.30" width="91.30" height="12.10" fill="#d6d6d6" stroke="none" stroke-width="1" />
<line x1="152.00" y1="481.30" x2="243.30" y2="481.30" stroke="#222" stroke-width="1.2" />
<line x1="152.00" y1="493.40" x2="243.30" y2="493.40" stroke="#333" stroke-width="0.9" />
<text x="194.15" y="490.80" font-size="7.35" text-anchor="middle" fill="#000" stroke="#000" stroke-width="0.25">F. sp. incertae sedis</text>
<rect x="152.00" y="481.30" width="91.30" height="111.10" fill="none" stroke="#222" stroke-width="1.1" />
<text x="262.10" y="496.99" font-size="7.2" text-anchor="end" fill="#383838" stroke="#383838" stroke-width="0.15">0.05</text>
<line x1="266.10" y1="494.40" x2="268.70" y2="494.40" stroke="#4d4d4d" stroke-width="0.8" />
<text x="262.10" y="513.69" font-size="7.2" text-anchor="end" fill="#383838" stroke="#383838" stroke-width="0.15">0.04</text>
<line x1="266.10" y1="511.10" x2="268.70" y2="511.10" stroke="#4d4d4d" stroke-width="0.8" />
<text x="262.10" y="529.99" font-size="7.2" text-anchor="end" fill="#383838" stroke="#383838" stroke-width="0.15">0.03</text>
<line x1="266.10" y1="527.40" x2="268.70" y2="527.40" stroke="#4d4d4d" stroke-width="0.8" />
<text x="262.10" y="546.69" font-size="7.2" text-anchor="end" fill="#383838" stroke="#383838" stroke-width="0.15">0.02</text>
<line x1="266.10" y1="544.10" x2="268.70" y2="544.10" stroke="#4d4d4d" stroke-width="0.8" />
<text x="262.10" y="563.19" font-size="7.2" text-anchor="end" fill="#383838" stroke="#383838" stroke-width="0.15">0.01</text>
<line x1="266.10" y1="560.60" x2="268.70" y2="560.60" stroke="#4d4d4d" stroke-width="0.8" />
<text x="262.10" y="579.59" font-size="7.2" text-anchor="end" fill="#383838" stroke="#383838" stroke-width="0.15">0.00</text>
<line x1="266.10" y1="577.00" x2="268.70" y2="577.00" stroke="#4d4d4d" stroke-width="0.8" />
<line x1="285.40" y1="516.00" x2="285.40" y2="552.00" stroke="#a9a9a9" stroke-width="1.1" />
<rect x="275.10" y="552.00" width="20.60" height="25.00" fill="#c6c6c6" stroke="#9c9c9c" stroke-width="1.0" />
<rect x="276.70" y="553.60" width="17.40" height="21.80" fill="none" stroke="#ffffff" stroke-width="0.6" stroke-opacity="0.35"/>
<line x1="285.40" y1="535.40" x2="285.40" y2="581.40" stroke="#2b2b2b" stroke-width="1.1" />
<circle cx="285.40" cy="558.00" r="1.35" fill="#000"/>
<line x1="303.50" y1="577.00" x2="324.10" y2="577.00" stroke="#c57a3c" stroke-width="1.5" />
<circle cx="313.80" cy="517.80" r="1.35" fill="#c8742e"/>
<line x1="313.80" y1="545.70" x2="313.80" y2="587.90" stroke="#2b2b2b" stroke-width="1.1" />
<circle cx="313.80" cy="545.70" r="1.0" fill="#c8742e"/>
<circle cx="313.80" cy="567.00" r="1.35" fill="#000"/>
<line x1="332.10" y1="577.00" x2="352.70" y2="577.00" stroke="#4863ab" stroke-width="1.5" />
<circle cx="342.40" cy="577.00" r="1.35" fill="#000"/>
<path d="M285.40,500.90 V498.50 H342.40 V500.90" fill="none" stroke="#222" stroke-width="1.05"/>
<path d="M313.80,508.30 V505.90 H342.40 V508.30" fill="none" stroke="#222" stroke-width="1.05"/>
<path d="M285.40,515.30 V512.90 H313.80 V515.30" fill="none" stroke="#222" stroke-width="1.05"/>
<polygon points="314.70,494.60 315.29,496.09 316.89,496.19 315.65,497.21 316.05,498.76 314.70,497.90 313.35,498.76 313.75,497.21 312.51,496.19 314.11,496.09" fill="#111" stroke="#111" stroke-width="0.4" stroke-linejoin="round"/>
<text x="327.30" y="515.79" font-size="9.6" text-anchor="middle" fill="#000" stroke="#000" stroke-width="0.3">ns</text>
<text x="288.70" y="528.59" font-size="9.6" text-anchor="middle" fill="#000" stroke="#000" stroke-width="0.3">ns</text>
<rect x="268.70" y="481.30" width="90.80" height="11.90" fill="#d6d6d6" stroke="none" stroke-width="1" />
<line x1="268.70" y1="481.30" x2="359.50" y2="481.30" stroke="#222" stroke-width="1.2" />
<line x1="268.70" y1="493.20" x2="359.50" y2="493.20" stroke="#333" stroke-width="0.9" />
<text x="310.70" y="490.70" font-size="7.35" text-anchor="middle" fill="#000" stroke="#000" stroke-width="0.25">M. luteus</text>
<rect x="268.70" y="481.30" width="90.80" height="111.10" fill="none" stroke="#222" stroke-width="1.1" />
<text x="380.40" y="523.89" font-size="7.2" text-anchor="end" fill="#383838" stroke="#383838" stroke-width="0.15">0.2</text>
<line x1="384.40" y1="521.30" x2="387.00" y2="521.30" stroke="#4d4d4d" stroke-width="0.8" />
<text x="380.40" y="554.09" font-size="7.2" text-anchor="end" fill="#383838" stroke="#383838" stroke-width="0.15">0.1</text>
<line x1="384.40" y1="551.50" x2="387.00" y2="551.50" stroke="#4d4d4d" stroke-width="0.8" />
<text x="380.40" y="583.99" font-size="7.2" text-anchor="end" fill="#383838" stroke="#383838" stroke-width="0.15">0.0</text>
<line x1="384.40" y1="581.40" x2="387.00" y2="581.40" stroke="#4d4d4d" stroke-width="0.8" />
<line x1="393.80" y1="581.40" x2="414.40" y2="581.40" stroke="#a9a9a9" stroke-width="1.2" />
<circle cx="404.10" cy="581.40" r="1.35" fill="#000"/>
<line x1="432.70" y1="513.20" x2="432.70" y2="545.40" stroke="#c57a3c" stroke-width="1.1" />
<rect x="422.40" y="545.40" width="20.60" height="36.30" fill="#e0c1a8" stroke="#c27b45" stroke-width="1.0" />
<rect x="424.00" y="547.00" width="17.40" height="33.10" fill="none" stroke="#ffffff" stroke-width="0.6" stroke-opacity="0.35"/>
<line x1="422.40" y1="572.60" x2="443.00" y2="572.60" stroke="#c27b45" stroke-width="1.1" />
<line x1="432.70" y1="537.80" x2="432.70" y2="587.50" stroke="#2b2b2b" stroke-width="1.1" />
<circle cx="432.70" cy="562.90" r="1.35" fill="#000"/>
<line x1="450.80" y1="581.40" x2="471.40" y2="581.40" stroke="#4863ab" stroke-width="1.5" />
<circle cx="461.10" cy="581.40" r="1.35" fill="#000"/>
<path d="M404.10,500.40 V498.00 H461.10 V500.40" fill="none" stroke="#222" stroke-width="1.05"/>
<path d="M432.70,508.30 V505.90 H461.10 V508.30" fill="none" stroke="#222" stroke-width="1.05"/>
<path d="M404.10,515.60 V513.20 H432.70 V515.60" fill="none" stroke="#222" stroke-width="1.05"/>
<text x="434.10" y="503.69" font-size="9.6" text-anchor="middle" fill="#000" stroke="#000" stroke-width="0.3">ns</text>
<polygon points="448.50,500.60 449.09,502.09 450.69,502.19 449.45,503.21 449.85,504.76 448.50,503.90 447.15,504.76 447.55,503.21 446.31,502.19 447.91,502.09" fill="#111" stroke="#111" stroke-width="0.4" stroke-linejoin="round"/>
<polygon points="419.50,508.10 420.09,509.59 421.69,509.69 420.45,510.71 420.85,512.26 419.50,511.40 418.15,512.26 418.55,510.71 417.31,509.69 418.91,509.59" fill="#111" stroke="#111" stroke-width="0.4" stroke-linejoin="round"/>
<rect x="387.00" y="481.00" width="91.30" height="12.20" fill="#d6d6d6" stroke="none" stroke-width="1" />
<line x1="387.00" y1="481.00" x2="478.30" y2="481.00" stroke="#222" stroke-width="1.2" />
<line x1="387.00" y1="493.20" x2="478.30" y2="493.20" stroke="#333" stroke-width="0.9" />
<text x="435.30" y="490.55" font-size="7.35" text-anchor="middle" fill="#000" stroke="#000" stroke-width="0.25">D. sp. incertae sedis</text>
<rect x="387.00" y="481.00" width="91.30" height="111.40" fill="none" stroke="#222" stroke-width="1.1" />
<text x="495.50" y="506.89" font-size="7.2" text-anchor="end" fill="#383838" stroke="#383838" stroke-width="0.15">0.15</text>
<line x1="499.50" y1="504.30" x2="502.10" y2="504.30" stroke="#4d4d4d" stroke-width="0.8" />
<text x="495.50" y="533.99" font-size="7.2" text-anchor="end" fill="#383838" stroke="#383838" stroke-width="0.15">0.10</text>
<line x1="499.50" y1="531.40" x2="502.10" y2="531.40" stroke="#4d4d4d" stroke-width="0.8" />
<text x="495.50" y="560.99" font-size="7.2" text-anchor="end" fill="#383838" stroke="#383838" stroke-width="0.15">0.05</text>
<line x1="499.50" y1="558.40" x2="502.10" y2="558.40" stroke="#4d4d4d" stroke-width="0.8" />
<text x="495.50" y="588.39" font-size="7.2" text-anchor="end" fill="#383838" stroke="#383838" stroke-width="0.15">0.00</text>
<line x1="499.50" y1="585.80" x2="502.10" y2="585.80" stroke="#4d4d4d" stroke-width="0.8" />
<rect x="508.70" y="560.80" width="20.60" height="18.60" fill="#c6c6c6" stroke="#9c9c9c" stroke-width="1.0" />
<rect x="510.30" y="562.40" width="17.40" height="15.40" fill="none" stroke="#ffffff" stroke-width="0.6" stroke-opacity="0.35"/>
<circle cx="519.00" cy="520.80" r="1.35" fill="#b0b0b0"/>
<line x1="519.00" y1="547.40" x2="519.00" y2="587.50" stroke="#2b2b2b" stroke-width="1.1" />
<circle cx="519.00" cy="567.70" r="1.35" fill="#000"/>
<rect x="537.00" y="574.30" width="20.60" height="11.80" fill="#e0c1a8" stroke="#c27b45" stroke-width="1.0" />
<rect x="538.60" y="575.90" width="17.40" height="8.60" fill="none" stroke="#ffffff" stroke-width="0.6" stroke-opacity="0.35"/>
<circle cx="547.30" cy="555.40" r="1.35" fill="#c8742e"/>
<line x1="547.30" y1="568.00" x2="547.30" y2="588.30" stroke="#2b2b2b" stroke-width="1.1" />
<circle cx="547.30" cy="578.20" r="1.35" fill="#000"/>
<line x1="575.90" y1="520.70" x2="575.90" y2="540.60" stroke="#4863ab" stroke-width="1.1" />
<rect x="565.60" y="540.60" width="20.60" height="36.40" fill="#82d5f7" stroke="#4a6db4" stroke-width="1.0" />
<rect x="567.20" y="542.20" width="17.40" height="33.20" fill="none" stroke="#ffffff" stroke-width="0.6" stroke-opacity="0.35"/>
<line x1="565.60" y1="556.10" x2="586.20" y2="556.10" stroke="#4a6db4" stroke-width="1.1" />
<line x1="575.90" y1="520.70" x2="575.90" y2="569.50" stroke="#2b2b2b" stroke-width="1.1" />
<circle cx="575.90" cy="545.10" r="1.35" fill="#000"/>
<path d="M519.00,500.40 V498.00 H575.90 V500.40" fill="none" stroke="#222" stroke-width="1.05"/>
<path d="M547.30,509.30 V506.90 H575.90 V509.30" fill="none" stroke="#222" stroke-width="1.05"/>
<path d="M519.00,518.10 V515.70 H547.30 V518.10" fill="none" stroke="#222" stroke-width="1.05"/>
<text x="547.70" y="504.29" font-size="9.6" text-anchor="middle" fill="#000" stroke="#000" stroke-width="0.3">ns</text>
<polygon points="562.70,501.40 563.29,502.89 564.89,502.99 563.65,504.01 564.05,505.56 562.70,504.70 561.35,505.56 561.75,504.01 560.51,502.99 562.11,502.89" fill="#111" stroke="#111" stroke-width="0.4" stroke-linejoin="round"/>
<text x="535.00" y="529.79" font-size="9.6" text-anchor="middle" fill="#000" stroke="#000" stroke-width="0.3">ns</text>
<rect x="502.10" y="482.70" width="91.70" height="11.60" fill="#d6d6d6" stroke="none" stroke-width="1" />
<line x1="502.10" y1="482.70" x2="593.80" y2="482.70" stroke="#222" stroke-width="1.2" />
<line x1="502.10" y1="494.30" x2="593.80" y2="494.30" stroke="#333" stroke-width="0.9" />
<text x="545.25" y="491.95" font-size="7.35" text-anchor="middle" fill="#000" stroke="#000" stroke-width="0.25">M. sp. incertae sedis</text>
<rect x="502.10" y="482.70" width="91.70" height="110.10" fill="none" stroke="#222" stroke-width="1.1" />
<text x="26.10" y="618.79" font-size="7.2" text-anchor="end" fill="#383838" stroke="#383838" stroke-width="0.15">0.05</text>
<line x1="30.10" y1="616.20" x2="32.70" y2="616.20" stroke="#4d4d4d" stroke-width="0.8" />
<text x="26.10" y="636.39" font-size="7.2" text-anchor="end" fill="#383838" stroke="#383838" stroke-width="0.15">0.04</text>
<line x1="30.10" y1="633.80" x2="32.70" y2="633.80" stroke="#4d4d4d" stroke-width="0.8" />
<text x="26.10" y="653.89" font-size="7.2" text-anchor="end" fill="#383838" stroke="#383838" stroke-width="0.15">0.03</text>
<line x1="30.10" y1="651.30" x2="32.70" y2="651.30" stroke="#4d4d4d" stroke-width="0.8" />
<text x="26.10" y="670.99" font-size="7.2" text-anchor="end" fill="#383838" stroke="#383838" stroke-width="0.15">0.02</text>
<line x1="30.10" y1="668.40" x2="32.70" y2="668.40" stroke="#4d4d4d" stroke-width="0.8" />
<text x="26.10" y="688.09" font-size="7.2" text-anchor="end" fill="#383838" stroke="#383838" stroke-width="0.15">0.01</text>
<line x1="30.10" y1="685.50" x2="32.70" y2="685.50" stroke="#4d4d4d" stroke-width="0.8" />
<text x="26.10" y="705.49" font-size="7.2" text-anchor="end" fill="#383838" stroke="#383838" stroke-width="0.15">0.00</text>
<line x1="30.10" y1="702.90" x2="32.70" y2="702.90" stroke="#4d4d4d" stroke-width="0.8" />
<line x1="49.60" y1="660.20" x2="49.60" y2="682.30" stroke="#a9a9a9" stroke-width="1.1" />
<rect x="39.30" y="682.30" width="20.60" height="20.70" fill="#c6c6c6" stroke="#9c9c9c" stroke-width="1.0" />
<rect x="40.90" y="683.90" width="17.40" height="17.50" fill="none" stroke="#ffffff" stroke-width="0.6" stroke-opacity="0.35"/>
<line x1="49.60" y1="673.10" x2="49.60" y2="707.80" stroke="#2b2b2b" stroke-width="1.1" />
<circle cx="49.60" cy="690.70" r="1.35" fill="#000"/>
<line x1="78.40" y1="638.00" x2="78.40" y2="673.90" stroke="#c57a3c" stroke-width="1.1" />
<rect x="68.10" y="673.90" width="20.60" height="29.10" fill="#e0c1a8" stroke="#c27b45" stroke-width="1.0" />
<rect x="69.70" y="675.50" width="17.40" height="25.90" fill="none" stroke="#ffffff" stroke-width="0.6" stroke-opacity="0.35"/>
<line x1="78.40" y1="660.20" x2="78.40" y2="708.20" stroke="#2b2b2b" stroke-width="1.1" />
<circle cx="78.40" cy="684.80" r="1.35" fill="#000"/>
<line x1="96.70" y1="703.00" x2="117.30" y2="703.00" stroke="#4863ab" stroke-width="1.5" />
<circle cx="107.00" cy="703.00" r="1.35" fill="#000"/>
<path d="M49.60,621.70 V619.30 H107.00 V621.70" fill="none" stroke="#222" stroke-width="1.05"/>
<path d="M78.40,629.40 V627.00 H107.00 V629.40" fill="none" stroke="#222" stroke-width="1.05"/>
<path d="M49.60,636.90 V634.50 H78.40 V636.90" fill="none" stroke="#222" stroke-width="1.05"/>
<polygon points="79.60,615.30 80.19,616.79 81.79,616.89 80.55,617.91 80.95,619.46 79.60,618.60 78.25,619.46 78.65,617.91 77.41,616.89 79.01,616.79" fill="#111" stroke="#111" stroke-width="0.4" stroke-linejoin="round"/>
<polygon points="93.70,621.90 94.29,623.39 95.89,623.49 94.65,624.51 95.05,626.06 93.70,625.20 92.35,626.06 92.75,624.51 91.51,623.49 93.11,623.39" fill="#111" stroke="#111" stroke-width="0.4" stroke-linejoin="round"/>
<text x="56.20" y="650.59" font-size="9.6" text-anchor="middle" fill="#000" stroke="#000" stroke-width="0.3">ns</text>
<rect x="32.70" y="601.50" width="91.80" height="12.30" fill="#d6d6d6" stroke="none" stroke-width="1" />
<line x1="32.70" y1="601.50" x2="124.50" y2="601.50" stroke="#222" stroke-width="1.2" />
<line x1="32.70" y1="613.80" x2="124.50" y2="613.80" stroke="#333" stroke-width="0.9" />
<text x="74.90" y="611.10" font-size="7.35" text-anchor="middle" fill="#000" stroke="#000" stroke-width="0.25">P. nigrescens</text>
<rect x="32.70" y="601.50" width="91.80" height="111.40" fill="none" stroke="#222" stroke-width="1.1" />
<text x="145.40" y="621.09" font-size="7.2" text-anchor="end" fill="#383838" stroke="#383838" stroke-width="0.15">1.00</text>
<line x1="149.40" y1="618.50" x2="152.00" y2="618.50" stroke="#4d4d4d" stroke-width="0.8" />
<text x="145.40" y="643.39" font-size="7.2" text-anchor="end" fill="#383838" stroke="#383838" stroke-width="0.15">0.75</text>
<line x1="149.40" y1="640.80" x2="152.00" y2="640.80" stroke="#4d4d4d" stroke-width="0.8" />
<text x="145.40" y="665.29" font-size="7.2" text-anchor="end" fill="#383838" stroke="#383838" stroke-width="0.15">0.50</text>
<line x1="149.40" y1="662.70" x2="152.00" y2="662.70" stroke="#4d4d4d" stroke-width="0.8" />
<text x="145.40" y="686.89" font-size="7.2" text-anchor="end" fill="#383838" stroke="#383838" stroke-width="0.15">0.25</text>
<line x1="149.40" y1="684.30" x2="152.00" y2="684.30" stroke="#4d4d4d" stroke-width="0.8" />
<text x="145.40" y="708.89" font-size="7.2" text-anchor="end" fill="#383838" stroke="#383838" stroke-width="0.15">0.00</text>
<line x1="149.40" y1="706.30" x2="152.00" y2="706.30" stroke="#4d4d4d" stroke-width="0.8" />
<line x1="158.40" y1="706.30" x2="179.00" y2="706.30" stroke="#a9a9a9" stroke-width="1.2" />
<circle cx="168.70" cy="706.30" r="1.35" fill="#000"/>
<rect x="187.40" y="685.20" width="20.60" height="16.70" fill="#e0c1a8" stroke="#c27b45" stroke-width="1.0" />
<rect x="189.00" y="686.80" width="17.40" height="13.50" fill="none" stroke="#ffffff" stroke-width="0.6" stroke-opacity="0.35"/>
<line x1="187.40" y1="695.60" x2="208.00" y2="695.60" stroke="#c27b45" stroke-width="1.1" />
<circle cx="197.70" cy="638.70" r="1.35" fill="#c8742e"/>
<line x1="197.70" y1="664.80" x2="197.70" y2="708.40" stroke="#2b2b2b" stroke-width="1.1" />
<circle cx="197.70" cy="686.80" r="1.35" fill="#000"/>
<line x1="215.80" y1="706.30" x2="236.40" y2="706.30" stroke="#4863ab" stroke-width="1.5" />
<circle cx="226.10" cy="702.80" r="1.0" fill="#3f62b0"/>
<circle cx="226.10" cy="706.30" r="1.35" fill="#000"/>
<path d="M168.70,620.90 V618.50 H226.10 V620.90" fill="none" stroke="#222" stroke-width="1.05"/>
<path d="M197.70,629.10 V626.70 H226.10 V629.10" fill="none" stroke="#222" stroke-width="1.05"/>
<path d="M168.70,637.00 V634.60 H197.70 V637.00" fill="none" stroke="#222" stroke-width="1.05"/>
<text x="198.00" y="624.89" font-size="9.6" text-anchor="middle" fill="#000" stroke="#000" stroke-width="0.3">ns</text>
<polygon points="211.35,622.00 211.94,623.49 213.54,623.59 212.30,624.61 212.70,626.16 211.35,625.30 210.00,626.16 210.40,624.61 209.16,623.59 210.76,623.49" fill="#111" stroke="#111" stroke-width="0.4" stroke-linejoin="round"/>
<polygon points="216.65,622.00 217.24,623.49 218.84,623.59 217.60,624.61 218.00,626.16 216.65,625.30 215.30,626.16 215.70,624.61 214.46,623.59 216.06,623.49" fill="#111" stroke="#111" stroke-width="0.4" stroke-linejoin="round"/>
<polygon points="181.00,630.40 181.59,631.89 183.19,631.99 181.95,633.01 182.35,634.56 181.00,633.70 179.65,634.56 180.05,633.01 178.81,631.99 180.41,631.89" fill="#111" stroke="#111" stroke-width="0.4" stroke-linejoin="round"/>
<polygon points="186.30,630.40 186.89,631.89 188.49,631.99 187.25,633.01 187.65,634.56 186.30,633.70 184.95,634.56 185.35,633.01 184.11,631.99 185.71,631.89" fill="#111" stroke="#111" stroke-width="0.4" stroke-linejoin="round"/>
<polygon points="191.60,630.40 192.19,631.89 193.79,631.99 192.55,633.01 192.95,634.56 191.60,633.70 190.25,634.56 190.65,633.01 189.41,631.99 191.01,631.89" fill="#111" stroke="#111" stroke-width="0.4" stroke-linejoin="round"/>
<rect x="152.00" y="601.60" width="91.30" height="12.50" fill="#d6d6d6" stroke="none" stroke-width="1" />
<line x1="152.00" y1="601.60" x2="243.30" y2="601.60" stroke="#222" stroke-width="1.2" />
<line x1="152.00" y1="614.10" x2="243.30" y2="614.10" stroke="#333" stroke-width="0.9" />
<text x="194.10" y="611.30" font-size="7.35" text-anchor="middle" fill="#000" stroke="#000" stroke-width="0.25">P. alcaligenes</text>
<rect x="152.00" y="601.60" width="91.30" height="111.70" fill="none" stroke="#222" stroke-width="1.1" />
<text x="262.10" y="640.79" font-size="7.2" text-anchor="end" fill="#383838" stroke="#383838" stroke-width="0.15">0.50</text>
<line x1="266.10" y1="638.20" x2="268.70" y2="638.20" stroke="#4d4d4d" stroke-width="0.8" />
<text x="262.10" y="669.99" font-size="7.2" text-anchor="end" fill="#383838" stroke="#383838" stroke-width="0.15">0.25</text>
<line x1="266.10" y1="667.40" x2="268.70" y2="667.40" stroke="#4d4d4d" stroke-width="0.8" />
<text x="262.10" y="698.19" font-size="7.2" text-anchor="end" fill="#383838" stroke="#383838" stroke-width="0.15">0.00</text>
<line x1="266.10" y1="695.60" x2="268.70" y2="695.60" stroke="#4d4d4d" stroke-width="0.8" />
<line x1="274.90" y1="695.60" x2="295.50" y2="695.60" stroke="#a9a9a9" stroke-width="1.5" />
<circle cx="285.20" cy="695.60" r="1.35" fill="#000"/>
<rect x="303.50" y="687.70" width="20.60" height="8.00" fill="#e0c1a8" stroke="#c27b45" stroke-width="1.0" />
<rect x="305.10" y="689.30" width="17.40" height="4.80" fill="none" stroke="#ffffff" stroke-width="0.6" stroke-opacity="0.35"/>
<line x1="303.50" y1="692.20" x2="324.10" y2="692.20" stroke="#c27b45" stroke-width="1.1" />
<circle cx="313.80" cy="669.40" r="1.35" fill="#c8742e"/>
<line x1="313.80" y1="680.30" x2="313.80" y2="697.50" stroke="#2b2b2b" stroke-width="1.1" />
<circle cx="313.80" cy="689.10" r="1.35" fill="#000"/>
<line x1="332.10" y1="695.60" x2="352.70" y2="695.60" stroke="#4863ab" stroke-width="1.5" />
<circle cx="342.40" cy="636.00" r="1.35" fill="#3f62b0"/>
<line x1="342.40" y1="667.10" x2="342.40" y2="708.40" stroke="#2b2b2b" stroke-width="1.1" />
<circle cx="342.40" cy="692.60" r="1.0" fill="#3f62b0"/>
<circle cx="342.40" cy="687.80" r="1.35" fill="#000"/>
<path d="M285.20,620.90 V618.50 H342.40 V620.90" fill="none" stroke="#222" stroke-width="1.05"/>
<path d="M313.80,628.30 V625.90 H342.40 V628.30" fill="none" stroke="#222" stroke-width="1.05"/>
<path d="M285.20,635.30 V632.90 H313.80 V635.30" fill="none" stroke="#222" stroke-width="1.05"/>
<text x="314.30" y="624.59" font-size="9.6" text-anchor="middle" fill="#000" stroke="#000" stroke-width="0.3">ns</text>
<text x="327.30" y="637.59" font-size="9.6" text-anchor="middle" fill="#000" stroke="#000" stroke-width="0.3">ns</text>
<polygon points="300.60,628.10 301.19,629.59 302.79,629.69 301.55,630.71 301.95,632.26 300.60,631.40 299.25,632.26 299.65,630.71 298.41,629.69 300.01,629.59" fill="#111" stroke="#111" stroke-width="0.4" stroke-linejoin="round"/>
<rect x="268.70" y="601.60" width="90.80" height="12.00" fill="#d6d6d6" stroke="none" stroke-width="1" />
<line x1="268.70" y1="601.60" x2="359.50" y2="601.60" stroke="#222" stroke-width="1.2" />
<line x1="268.70" y1="613.60" x2="359.50" y2="613.60" stroke="#333" stroke-width="0.9" />
<text x="317.00" y="611.05" font-size="7.35" text-anchor="middle" fill="#000" stroke="#000" stroke-width="0.25">Rhizobiales sp.</text>
<rect x="268.70" y="601.60" width="90.80" height="111.20" fill="none" stroke="#222" stroke-width="1.1" />
<text x="380.40" y="619.29" font-size="7.2" text-anchor="end" fill="#383838" stroke="#383838" stroke-width="0.15">0.4</text>
<line x1="384.40" y1="616.70" x2="387.00" y2="616.70" stroke="#4d4d4d" stroke-width="0.8" />
<text x="380.40" y="641.59" font-size="7.2" text-anchor="end" fill="#383838" stroke="#383838" stroke-width="0.15">0.3</text>
<line x1="384.40" y1="639.00" x2="387.00" y2="639.00" stroke="#4d4d4d" stroke-width="0.8" />
<text x="380.40" y="664.39" font-size="7.2" text-anchor="end" fill="#383838" stroke="#383838" stroke-width="0.15">0.2</text>
<line x1="384.40" y1="661.80" x2="387.00" y2="661.80" stroke="#4d4d4d" stroke-width="0.8" />
<text x="380.40" y="686.89" font-size="7.2" text-anchor="end" fill="#383838" stroke="#383838" stroke-width="0.15">0.1</text>
<line x1="384.40" y1="684.30" x2="387.00" y2="684.30" stroke="#4d4d4d" stroke-width="0.8" />
<text x="380.40" y="709.19" font-size="7.2" text-anchor="end" fill="#383838" stroke="#383838" stroke-width="0.15">0.0</text>
<line x1="384.40" y1="706.60" x2="387.00" y2="706.60" stroke="#4d4d4d" stroke-width="0.8" />
<line x1="393.80" y1="706.60" x2="414.40" y2="706.60" stroke="#a9a9a9" stroke-width="1.2" />
<circle cx="404.10" cy="706.60" r="1.35" fill="#000"/>
<line x1="432.70" y1="638.10" x2="432.70" y2="653.10" stroke="#c57a3c" stroke-width="1.1" />
<line x1="432.70" y1="692.60" x2="432.70" y2="706.60" stroke="#c57a3c" stroke-width="1.1" />
<rect x="422.40" y="653.10" width="20.60" height="39.50" fill="#e0c1a8" stroke="#c27b45" stroke-width="1.0" />
<rect x="424.00" y="654.70" width="17.40" height="36.30" fill="none" stroke="#ffffff" stroke-width="0.6" stroke-opacity="0.35"/>
<line x1="422.40" y1="680.80" x2="443.00" y2="680.80" stroke="#c27b45" stroke-width="1.1" />
<line x1="432.70" y1="651.80" x2="432.70" y2="701.00" stroke="#2b2b2b" stroke-width="1.1" />
<circle cx="432.70" cy="676.80" r="1.35" fill="#000"/>
<rect x="450.80" y="705.20" width="20.60" height="2.30" fill="#82d5f7" stroke="#4a6db4" stroke-width="1.0" />
<line x1="450.80" y1="706.40" x2="471.40" y2="706.40" stroke="#4a6db4" stroke-width="1.1" />
<line x1="461.10" y1="699.60" x2="461.10" y2="706.60" stroke="#2b2b2b" stroke-width="1.1" />
<circle cx="461.10" cy="700.10" r="1.0" fill="#3f62b0"/>
<circle cx="461.10" cy="706.60" r="1.35" fill="#000"/>
<path d="M404.10,620.40 V618.00 H461.10 V620.40" fill="none" stroke="#222" stroke-width="1.05"/>
<path d="M432.70,629.10 V626.70 H461.10 V629.10" fill="none" stroke="#222" stroke-width="1.05"/>
<path d="M404.10,637.40 V635.00 H432.70 V637.40" fill="none" stroke="#222" stroke-width="1.05"/>
<text x="434.10" y="621.09" font-size="9.6" text-anchor="middle" fill="#000" stroke="#000" stroke-width="0.3">ns</text>
<polygon points="446.75,621.60 447.34,623.09 448.94,623.19 447.70,624.21 448.10,625.76 446.75,624.90 445.40,625.76 445.80,624.21 444.56,623.19 446.16,623.09" fill="#111" stroke="#111" stroke-width="0.4" stroke-linejoin="round"/>
<polygon points="452.05,621.60 452.64,623.09 454.24,623.19 453.00,624.21 453.40,625.76 452.05,624.90 450.70,625.76 451.10,624.21 449.86,623.19 451.46,623.09" fill="#111" stroke="#111" stroke-width="0.4" stroke-linejoin="round"/>
<polygon points="417.75,630.40 418.34,631.89 419.94,631.99 418.70,633.01 419.10,634.56 417.75,633.70 416.40,634.56 416.80,633.01 415.56,631.99 417.16,631.89" fill="#111" stroke="#111" stroke-width="0.4" stroke-linejoin="round"/>
<polygon points="423.05,630.40 423.64,631.89 425.24,631.99 424.00,633.01 424.40,634.56 423.05,633.70 421.70,634.56 422.10,633.01 420.86,631.99 422.46,631.89" fill="#111" stroke="#111" stroke-width="0.4" stroke-linejoin="round"/>
<rect x="387.00" y="601.30" width="91.30" height="12.30" fill="#d6d6d6" stroke="none" stroke-width="1" />
<line x1="387.00" y1="601.30" x2="478.30" y2="601.30" stroke="#222" stroke-width="1.2" />
<line x1="387.00" y1="613.60" x2="478.30" y2="613.60" stroke="#333" stroke-width="0.9" />
<text x="432.25" y="610.90" font-size="7.35" text-anchor="middle" fill="#000" stroke="#000" stroke-width="0.25">B. sp. CACIA14H2</text>
<rect x="387.00" y="601.30" width="91.30" height="111.50" fill="none" stroke="#222" stroke-width="1.1" />
<text x="495.50" y="628.19" font-size="7.2" text-anchor="end" fill="#383838" stroke="#383838" stroke-width="0.15">0.20</text>
<line x1="499.50" y1="625.60" x2="502.10" y2="625.60" stroke="#4d4d4d" stroke-width="0.8" />
<text x="495.50" y="648.09" font-size="7.2" text-anchor="end" fill="#383838" stroke="#383838" stroke-width="0.15">0.15</text>
<line x1="499.50" y1="645.50" x2="502.10" y2="645.50" stroke="#4d4d4d" stroke-width="0.8" />
<text x="495.50" y="667.79" font-size="7.2" text-anchor="end" fill="#383838" stroke="#383838" stroke-width="0.15">0.10</text>
<line x1="499.50" y1="665.20" x2="502.10" y2="665.20" stroke="#4d4d4d" stroke-width="0.8" />
<text x="495.50" y="687.59" font-size="7.2" text-anchor="end" fill="#383838" stroke="#383838" stroke-width="0.15">0.05</text>
<line x1="499.50" y1="685.00" x2="502.10" y2="685.00" stroke="#4d4d4d" stroke-width="0.8" />
<text x="495.50" y="707.49" font-size="7.2" text-anchor="end" fill="#383838" stroke="#383838" stroke-width="0.15">0.00</text>
<line x1="499.50" y1="704.90" x2="502.10" y2="704.90" stroke="#4d4d4d" stroke-width="0.8" />
<line x1="508.30" y1="704.90" x2="528.90" y2="704.90" stroke="#a9a9a9" stroke-width="1.2" />
<circle cx="518.60" cy="699.90" r="1.35" fill="#b0b0b0"/>
<circle cx="518.60" cy="704.90" r="1.35" fill="#000"/>
<rect x="537.00" y="687.70" width="20.60" height="17.20" fill="#e0c1a8" stroke="#c27b45" stroke-width="1.0" />
<rect x="538.60" y="689.30" width="17.40" height="14.00" fill="none" stroke="#ffffff" stroke-width="0.6" stroke-opacity="0.35"/>
<circle cx="547.30" cy="658.80" r="1.35" fill="#c8742e"/>
<circle cx="547.30" cy="637.90" r="1.35" fill="#c8742e"/>
<line x1="547.30" y1="663.00" x2="547.30" y2="708.30" stroke="#2b2b2b" stroke-width="1.1" />
<circle cx="547.30" cy="685.50" r="1.35" fill="#000"/>
<line x1="565.60" y1="704.90" x2="586.20" y2="704.90" stroke="#4863ab" stroke-width="1.5" />
<circle cx="575.90" cy="679.60" r="1.35" fill="#3f62b0"/>
<line x1="575.90" y1="687.20" x2="575.90" y2="697.00" stroke="#2b2b2b" stroke-width="1.1" />
<circle cx="575.90" cy="692.00" r="1.35" fill="#000"/>
<path d="M518.60,620.00 V617.60 H575.90 V620.00" fill="none" stroke="#222" stroke-width="1.05"/>
<path d="M547.30,628.80 V626.40 H575.90 V628.80" fill="none" stroke="#222" stroke-width="1.05"/>
<path d="M518.60,637.80 V635.40 H547.30 V637.80" fill="none" stroke="#222" stroke-width="1.05"/>
<text x="547.70" y="624.79" font-size="9.6" text-anchor="middle" fill="#000" stroke="#000" stroke-width="0.3">ns</text>
<polygon points="563.20,621.80 563.79,623.29 565.39,623.39 564.15,624.41 564.55,625.96 563.20,625.10 561.85,625.96 562.25,624.41 561.01,623.39 562.61,623.29" fill="#111" stroke="#111" stroke-width="0.4" stroke-linejoin="round"/>
<polygon points="535.00,629.70 535.59,631.19 537.19,631.29 535.95,632.31 536.35,633.86 535.00,633.00 533.65,633.86 534.05,632.31 532.81,631.29 534.41,631.19" fill="#111" stroke="#111" stroke-width="0.4" stroke-linejoin="round"/>
<rect x="502.10" y="601.10" width="91.70" height="12.10" fill="#d6d6d6" stroke="none" stroke-width="1" />
<line x1="502.10" y1="601.10" x2="593.80" y2="601.10" stroke="#222" stroke-width="1.2" />
<line x1="502.10" y1="613.20" x2="593.80" y2="613.20" stroke="#333" stroke-width="0.9" />
<text x="546.95" y="610.60" font-size="7.35" text-anchor="middle" fill="#000" stroke="#000" stroke-width="0.25">B. sp. DS20</text>
<rect x="502.10" y="601.10" width="91.70" height="111.40" fill="none" stroke="#222" stroke-width="1.1" />
<text x="26.10" y="746.59" font-size="7.2" text-anchor="end" fill="#383838" stroke="#383838" stroke-width="0.15">0.3</text>
<line x1="30.10" y1="744.00" x2="32.70" y2="744.00" stroke="#4d4d4d" stroke-width="0.8" />
<text x="26.10" y="769.99" font-size="7.2" text-anchor="end" fill="#383838" stroke="#383838" stroke-width="0.15">0.2</text>
<line x1="30.10" y1="767.40" x2="32.70" y2="767.40" stroke="#4d4d4d" stroke-width="0.8" />
<text x="26.10" y="794.09" font-size="7.2" text-anchor="end" fill="#383838" stroke="#383838" stroke-width="0.15">0.1</text>
<line x1="30.10" y1="791.50" x2="32.70" y2="791.50" stroke="#4d4d4d" stroke-width="0.8" />
<text x="26.10" y="817.99" font-size="7.2" text-anchor="end" fill="#383838" stroke="#383838" stroke-width="0.15">0.0</text>
<line x1="30.10" y1="815.40" x2="32.70" y2="815.40" stroke="#4d4d4d" stroke-width="0.8" />
<line x1="39.30" y1="815.80" x2="59.90" y2="815.80" stroke="#a9a9a9" stroke-width="1.2" />
<circle cx="49.60" cy="815.80" r="1.35" fill="#000"/>
<rect x="68.10" y="809.00" width="20.60" height="6.80" fill="#e0c1a8" stroke="#c27b45" stroke-width="1.0" />
<rect x="69.70" y="810.60" width="17.40" height="3.60" fill="none" stroke="#ffffff" stroke-width="0.6" stroke-opacity="0.35"/>
<circle cx="78.40" cy="788.00" r="1.35" fill="#c8742e"/>
<line x1="78.40" y1="800.10" x2="78.40" y2="818.90" stroke="#2b2b2b" stroke-width="1.1" />
<circle cx="78.40" cy="810.00" r="1.35" fill="#000"/>
<rect x="96.70" y="811.40" width="20.60" height="4.40" fill="#82d5f7" stroke="#4a6db4" stroke-width="1.0" />
<circle cx="107.00" cy="754.50" r="1.35" fill="#3f62b0"/>
<line x1="107.00" y1="784.50" x2="107.00" y2="827.00" stroke="#2b2b2b" stroke-width="1.1" />
<circle cx="107.00" cy="800.10" r="1.0" fill="#3f62b0"/>
<circle cx="107.00" cy="805.50" r="1.35" fill="#000"/>
<path d="M49.60,740.50 V738.10 H107.00 V740.50" fill="none" stroke="#222" stroke-width="1.05"/>
<path d="M78.40,747.50 V745.10 H107.00 V747.50" fill="none" stroke="#222" stroke-width="1.05"/>
<path d="M49.60,755.00 V752.60 H78.40 V755.00" fill="none" stroke="#222" stroke-width="1.05"/>
<text x="82.00" y="742.99" font-size="9.6" text-anchor="middle" fill="#000" stroke="#000" stroke-width="0.3">ns</text>
<text x="94.80" y="755.89" font-size="9.6" text-anchor="middle" fill="#000" stroke="#000" stroke-width="0.3">ns</text>
<polygon points="65.10,746.50 65.69,747.99 67.29,748.09 66.05,749.11 66.45,750.66 65.10,749.80 63.75,750.66 64.15,749.11 62.91,748.09 64.51,747.99" fill="#111" stroke="#111" stroke-width="0.4" stroke-linejoin="round"/>
<rect x="32.70" y="720.50" width="91.80" height="12.20" fill="#d6d6d6" stroke="none" stroke-width="1" />
<line x1="32.70" y1="720.50" x2="124.50" y2="720.50" stroke="#222" stroke-width="1.2" />
<line x1="32.70" y1="732.70" x2="124.50" y2="732.70" stroke="#333" stroke-width="0.9" />
<text x="75.70" y="730.05" font-size="7.35" text-anchor="middle" fill="#000" stroke="#000" stroke-width="0.25">P. donghaensis</text>
<rect x="32.70" y="720.50" width="91.80" height="111.10" fill="none" stroke="#222" stroke-width="1.1" />
<text x="145.50" y="735.69" font-size="7.2" text-anchor="end" fill="#383838" stroke="#383838" stroke-width="0.15">0.15</text>
<line x1="149.50" y1="733.10" x2="152.10" y2="733.10" stroke="#4d4d4d" stroke-width="0.8" />
<text x="145.50" y="764.19" font-size="7.2" text-anchor="end" fill="#383838" stroke="#383838" stroke-width="0.15">0.10</text>
<line x1="149.50" y1="761.60" x2="152.10" y2="761.60" stroke="#4d4d4d" stroke-width="0.8" />
<text x="145.50" y="792.19" font-size="7.2" text-anchor="end" fill="#383838" stroke="#383838" stroke-width="0.15">0.05</text>
<line x1="149.50" y1="789.60" x2="152.10" y2="789.60" stroke="#4d4d4d" stroke-width="0.8" />
<text x="145.50" y="820.69" font-size="7.2" text-anchor="end" fill="#383838" stroke="#383838" stroke-width="0.15">0.00</text>
<line x1="149.50" y1="818.10" x2="152.10" y2="818.10" stroke="#4d4d4d" stroke-width="0.8" />
<rect x="158.90" y="812.00" width="20.60" height="6.50" fill="#c6c6c6" stroke="#9c9c9c" stroke-width="1.0" />
<rect x="160.50" y="813.60" width="17.40" height="3.30" fill="none" stroke="#ffffff" stroke-width="0.6" stroke-opacity="0.35"/>
<circle cx="169.20" cy="770.30" r="1.35" fill="#b0b0b0"/>
<circle cx="169.20" cy="780.50" r="1.35" fill="#b0b0b0"/>
<line x1="169.20" y1="789.20" x2="169.20" y2="826.10" stroke="#2b2b2b" stroke-width="1.1" />
<circle cx="169.20" cy="807.70" r="1.35" fill="#000"/>
<line x1="187.70" y1="818.30" x2="208.30" y2="818.30" stroke="#c57a3c" stroke-width="1.5" />
<circle cx="198.00" cy="818.30" r="1.35" fill="#000"/>
<line x1="226.80" y1="774.00" x2="226.80" y2="798.50" stroke="#4863ab" stroke-width="1.1" />
<rect x="216.50" y="798.50" width="20.60" height="20.00" fill="#82d5f7" stroke="#4a6db4" stroke-width="1.0" />
<rect x="218.10" y="800.10" width="17.40" height="16.80" fill="none" stroke="#ffffff" stroke-width="0.6" stroke-opacity="0.35"/>
<line x1="216.50" y1="812.70" x2="237.10" y2="812.70" stroke="#4a6db4" stroke-width="1.1" />
<circle cx="226.80" cy="755.50" r="1.35" fill="#3f62b0"/>
<line x1="226.80" y1="776.10" x2="226.80" y2="826.10" stroke="#2b2b2b" stroke-width="1.1" />
<circle cx="226.80" cy="801.80" r="1.35" fill="#000"/>
<path d="M169.20,739.40 V737.00 H226.80 V739.40" fill="none" stroke="#222" stroke-width="1.05"/>
<path d="M198.00,747.00 V744.60 H226.80 V747.00" fill="none" stroke="#222" stroke-width="1.05"/>
<path d="M169.20,754.00 V751.60 H198.00 V754.00" fill="none" stroke="#222" stroke-width="1.05"/>
<text x="197.80" y="742.89" font-size="9.6" text-anchor="middle" fill="#000" stroke="#000" stroke-width="0.3">ns</text>
<polygon points="213.50,739.20 214.09,740.69 215.69,740.79 214.45,741.81 214.85,743.36 213.50,742.50 212.15,743.36 212.55,741.81 211.31,740.79 212.91,740.69" fill="#111" stroke="#111" stroke-width="0.4" stroke-linejoin="round"/>
<text x="185.20" y="768.89" font-size="9.6" text-anchor="middle" fill="#000" stroke="#000" stroke-width="0.3">ns</text>
<rect x="152.10" y="720.40" width="91.80" height="12.30" fill="#d6d6d6" stroke="none" stroke-width="1" />
<line x1="152.10" y1="720.40" x2="243.90" y2="720.40" stroke="#222" stroke-width="1.2" />
<line x1="152.10" y1="732.70" x2="243.90" y2="732.70" stroke="#333" stroke-width="0.9" />
<text x="195.30" y="730.00" font-size="7.35" text-anchor="middle" fill="#000" stroke="#000" stroke-width="0.25">S. sp. OV641</text>
<rect x="152.10" y="720.40" width="91.80" height="110.80" fill="none" stroke="#222" stroke-width="1.1" />
<text x="270.50" y="756.76" font-size="7.4" text-anchor="start" fill="#000" stroke="#000" stroke-width="0.22">Group</text>
<rect x="272.00" y="763.60" width="10.00" height="6.80" fill="#c6c6c6" stroke="#9c9c9c" stroke-width="1.0" />
<line x1="272.00" y1="767.00" x2="282.00" y2="767.00" stroke="#9c9c9c" stroke-width="0.9" />
<line x1="277.00" y1="762.00" x2="277.00" y2="763.60" stroke="#a9a9a9" stroke-width="0.9" />
<line x1="277.00" y1="770.40" x2="277.00" y2="772.00" stroke="#a9a9a9" stroke-width="0.9" />
<text x="286.90" y="769.63" font-size="7.3" text-anchor="start" fill="#000" stroke="#000" stroke-width="0.15">Baseline</text>
<rect x="272.00" y="775.80" width="10.00" height="6.80" fill="#e0c1a8" stroke="#c27b45" stroke-width="1.0" />
<line x1="272.00" y1="779.20" x2="282.00" y2="779.20" stroke="#c27b45" stroke-width="0.9" />
<line x1="277.00" y1="774.20" x2="277.00" y2="775.80" stroke="#c57a3c" stroke-width="0.9" />
<line x1="277.00" y1="782.60" x2="277.00" y2="784.20" stroke="#c57a3c" stroke-width="0.9" />
<text x="286.90" y="781.83" font-size="7.3" text-anchor="start" fill="#000" stroke="#000" stroke-width="0.15">Adverse_reaction_occured</text>
<rect x="272.00" y="787.90" width="10.00" height="6.80" fill="#82d5f7" stroke="#4a6db4" stroke-width="1.0" />
<line x1="272.00" y1="791.30" x2="282.00" y2="791.30" stroke="#4a6db4" stroke-width="0.9" />
<line x1="277.00" y1="786.30" x2="277.00" y2="787.90" stroke="#4863ab" stroke-width="0.9" />
<line x1="277.00" y1="794.70" x2="277.00" y2="796.30" stroke="#4863ab" stroke-width="0.9" />
<text x="286.90" y="793.93" font-size="7.3" text-anchor="start" fill="#000" stroke="#000" stroke-width="0.15">Tolerance_established</text>
</svg></body></html>
